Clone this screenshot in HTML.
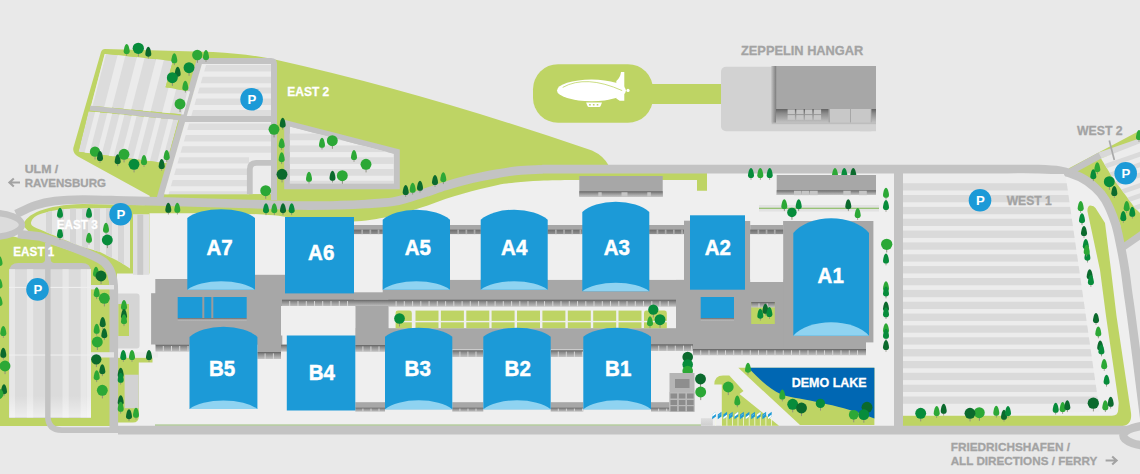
<!DOCTYPE html>
<html><head><meta charset="utf-8"><title>Map</title>
<style>
html,body{margin:0;padding:0;background:#e9e9e9;}
svg{display:block;}
text{font-family:"Liberation Sans",sans-serif;font-weight:bold;}
</style></head><body>
<svg width="1140" height="474" viewBox="0 0 1140 474">
<rect width="1140" height="474" fill="#e9e9e9"/>
<linearGradient id="tg" x1="0" y1="0" x2="0" y2="1"><stop offset="0" stop-color="#626262"/><stop offset="0.3" stop-color="#8a8a8a"/><stop offset="1" stop-color="#c4c4c4"/></linearGradient>
<linearGradient id="tg2" x1="0" y1="0" x2="0" y2="1"><stop offset="0" stop-color="#6c6c6c"/><stop offset="1" stop-color="#929292"/></linearGradient>
<path d="M117,272 L149,272 L149,205 L560,170 L895,170 L895,426 L118,426 Z" fill="#efefef"/>
<path d="M902,173 L1036,169 L1080,177 L1095,187.5 L1105.4,200 L1115.3,223.2 L1120.7,246.4 L1124.9,269.6 L1128,292.8 L1131.3,316 L1137,360 L1142,400 L1142,426 L902,426 Z" fill="#efefef"/>
<path d="M105,49 L213,52 Q250,54 277,60 Q425,93 592,150.5 Q604,156 609,166 L707,170 L707,190.7 L697,190.7 L697,180 L570.0,180.0 C565.0,180.1 549.1,180.3 540.0,180.7 C530.9,181.1 522.4,181.8 515.4,182.5 C508.4,183.2 503.7,183.8 497.9,184.9 C492.1,186.0 486.2,187.5 480.4,189.0 C474.5,190.5 468.6,192.0 462.8,193.7 C457.0,195.4 451.2,197.0 445.3,199.0 C439.4,201.0 433.6,203.6 427.7,205.6 C421.8,207.6 416.0,209.2 410.2,210.9 C404.4,212.6 399.9,214.2 392.6,215.8 C385.3,217.4 375.1,219.6 366.3,220.5 C357.5,221.4 351.1,221.7 340.0,221.4 C328.9,221.1 312.8,219.7 300.0,218.5 C287.2,217.3 279.7,215.4 263.0,214.5 C246.3,213.6 220.5,213.5 200.0,213.3 C179.5,213.1 150.0,213.3 140.0,213.3 L150,196 L78,156.5 Q72.5,153.5 73.3,148 L101,52 Q102,49 105,49 Z" fill="#bed464"/>
<path d="M23,225.5 C26,214 45,205 83,204 L160,205.5 L160,213 L149.5,213 L149.5,273.5 L117,273.5 L117,290 L100,260 L60,244 L30,233 Z" fill="#bed464"/>
<path d="M0,233.5 L20,238 L40,240 L60,247 L80,254 L100,262 L108,272 L110,290 L118,290 L118,426 L0,426 Z" fill="#bed464"/>
<rect x="114.0" y="293.5" width="25.6" height="55.0" fill="#d5d5d5" rx="3"/>
<rect x="118.3" y="304.0" width="10.7" height="32.0" fill="#bed464" />
<rect x="118.0" y="357.7" width="34.5" height="4.8" fill="#bed464" />
<path d="M118,362 L138.8,362 L138.8,416.5 Q138.8,422.5 132.8,422.5 L118,422.5 Z" fill="#bed464"/>
<rect x="124.6" y="374.7" width="14.1" height="33.5" fill="#d2d2d2" />
<rect x="533.0" y="64.2" width="120.0" height="58.5" fill="#bed464" rx="25"/>
<rect x="640.0" y="84.0" width="82.0" height="20.0" fill="#bed464" />
<path d="M902.7,415.8 L1112,415.8 Q1118.5,415.8 1118.2,409 L1118.7,403 L1106,316 L1100,270 L1087.4,211 Q1087.5,205.5 1090.5,205.5 Q1094,205.5 1095.5,208 L1105,223 L1111,270 L1116.5,316 L1129.5,403 L1131,413 Q1132.5,426 1120,426 L902.7,426 Z" fill="#bed464"/>
<path d="M1068.5,168.5 L1140,130.6 L1140,236 L1124,248 L1120,224 L1106,194 L1078,172.5 Z" fill="#bed464"/>
<rect x="155.0" y="424.5" width="546.0" height="1.2" fill="#9cc07a" />
<rect x="759.0" y="205.0" width="120.0" height="6.5" fill="#e2e2e2" />
<rect x="759.0" y="207.7" width="120.0" height="1.2" fill="#8fbf6a" />
<ellipse cx="-10" cy="224.8" rx="32" ry="12.2" fill="#dcdcdc" stroke="#c3c3c3" stroke-width="6.4"/>
<path d="M16.0,214.0 C19.2,212.6 28.5,207.7 35.0,205.5 C41.5,203.3 47.0,202.0 55.0,201.0 C63.0,200.0 71.3,199.6 83.0,199.5 C94.7,199.4 111.0,200.2 125.0,200.6 C139.0,201.0 146.2,201.1 167.0,201.7 C187.8,202.3 227.8,203.4 250.0,204.0 C272.2,204.6 285.0,205.3 300.0,205.5 C315.0,205.7 329.0,205.4 340.0,205.2 C351.0,204.9 357.2,204.6 366.0,204.0 C374.8,203.4 385.3,202.9 392.6,201.8 C399.9,200.7 404.1,199.1 410.0,197.5 C415.9,195.9 421.9,193.9 427.7,192.0 C433.5,190.1 439.1,188.0 445.0,186.2 C450.9,184.4 457.0,182.5 462.8,181.0 C468.6,179.5 474.1,178.2 480.0,177.0 C485.9,175.8 491.6,174.7 497.9,173.6 C504.2,172.5 511.0,171.3 518.0,170.6 C525.0,169.9 533.0,169.7 540.0,169.4 C547.0,169.2 533.3,169.2 560.0,169.1 C586.7,169.0 676.7,169.1 700.0,169.1 L1000,169.1" fill="none" stroke="#c3c3c3" stroke-width="8.7" />
<path d="M1000.0,169.1 C1006.0,169.1 1026.0,168.8 1036.0,169.1 C1046.0,169.4 1052.7,169.5 1060.0,170.8 C1067.3,172.1 1074.2,174.2 1080.0,177.0 C1085.8,179.8 1090.8,183.7 1095.0,187.5 C1099.2,191.3 1102.0,194.1 1105.4,200.0 C1108.8,205.9 1112.8,215.5 1115.3,223.2 C1117.8,230.9 1119.1,238.7 1120.7,246.4 C1122.3,254.1 1123.7,261.9 1124.9,269.6 C1126.1,277.3 1126.9,285.1 1128.0,292.8 C1129.1,300.5 1129.8,304.8 1131.3,316.0 C1132.8,327.2 1135.2,346.0 1137.0,360.0 C1138.8,374.0 1140.5,388.0 1142.0,400.0 C1143.5,412.0 1145.3,426.7 1146.0,432.0" fill="none" stroke="#c3c3c3" stroke-width="8.7" />
<path d="M898.5,169.5 L898.5,430" fill="none" stroke="#c3c3c3" stroke-width="9" />
<path d="M118,430.1 L1140,430.1" fill="none" stroke="#c3c3c3" stroke-width="8.6" />
<path d="M18,234 L40,236.5 C70,246 95,255 104,262 C111,268 113.8,278 113.8,290 L113.8,430" fill="none" stroke="#c3c3c3" stroke-width="8.6" />
<rect x="91.0" y="285.0" width="23.0" height="4.4" fill="#e4e4e4" />
<rect x="91.0" y="352.2" width="23.0" height="5.3" fill="#e4e4e4" />
<rect x="118.0" y="352.2" width="40.0" height="5.3" fill="#eaeaea" />
<path d="M47.85,243 L47.85,416 Q47.85,430.1 62,430.1 L118,430.1" fill="none" stroke="#c3c3c3" stroke-width="5.7" />
<path d="M9.2,418 L9.2,272 Q9.2,263 18.5,263 L42,263 Q45,262.5 45.2,259 L50.5,259 Q50.7,262.5 54,263 L81.7,263 Q91,263 91,272 L91,418 Z" fill="#c3c3c3"/>
<ellipse cx="1154" cy="435.6" rx="30.7" ry="10.5" fill="#e9e9e9" stroke="#c3c3c3" stroke-width="8.2"/>
<path d="M1099,155.8 L1142,141" fill="none" stroke="#d8d8d8" stroke-width="6.5" />
<path d="M1068,173 L1100,155.3" fill="none" stroke="#c3c3c3" stroke-width="6.5" />
<path d="M1122,248 L1142,234" fill="none" stroke="#c3c3c3" stroke-width="7" />
<path d="M200,60 L160,198" fill="none" stroke="#c3c3c3" stroke-width="6.5" />
<path d="M198,61 L271,61 Q274,61 274,64 L274,200" fill="none" stroke="#c3c3c3" stroke-width="6" />
<path d="M180,119 L274,119" fill="none" stroke="#c3c3c3" stroke-width="6" />
<path d="M90,108 L180,118" fill="none" stroke="#c3c3c3" stroke-width="5" />
<clipPath id="c1"><polygon points="903,174 1064,174 1066,178 1099.7,412 903,415"/></clipPath>
<g clip-path="url(#c1)"><polygon points="903,174 1064,174 1066,178 1099.7,412 903,415" fill="#ececec"/>
<rect x="902.7" y="183.2" width="200.0" height="7.3" fill="#dadada" />
<rect x="902.7" y="195.0" width="200.0" height="7.3" fill="#dadada" />
<rect x="902.7" y="206.9" width="200.0" height="7.3" fill="#dadada" />
<rect x="902.7" y="218.7" width="200.0" height="7.3" fill="#dadada" />
<rect x="902.7" y="230.6" width="200.0" height="7.3" fill="#dadada" />
<rect x="902.7" y="242.4" width="200.0" height="7.3" fill="#dadada" />
<rect x="902.7" y="254.3" width="200.0" height="7.3" fill="#dadada" />
<rect x="902.7" y="266.1" width="200.0" height="7.3" fill="#dadada" />
<rect x="902.7" y="278.0" width="200.0" height="7.3" fill="#dadada" />
<rect x="902.7" y="289.9" width="200.0" height="7.3" fill="#dadada" />
<rect x="902.7" y="301.7" width="200.0" height="7.3" fill="#dadada" />
<rect x="902.7" y="313.6" width="200.0" height="7.3" fill="#dadada" />
<rect x="902.7" y="325.4" width="200.0" height="7.3" fill="#dadada" />
<rect x="902.7" y="337.3" width="200.0" height="7.3" fill="#dadada" />
<rect x="902.7" y="349.1" width="200.0" height="7.3" fill="#dadada" />
<rect x="902.7" y="361.0" width="200.0" height="7.3" fill="#dadada" />
<rect x="902.7" y="372.8" width="200.0" height="7.3" fill="#dadada" />
<rect x="902.7" y="384.7" width="200.0" height="7.3" fill="#dadada" />
<rect x="902.7" y="396.5" width="200.0" height="7.3" fill="#dadada" />
</g>
<clipPath id="c2"><polygon points="1101,158.5 1140,143.3 1140,213 1135,208 1112.8,178"/></clipPath>
<g clip-path="url(#c2)"><rect x="1095" y="140" width="50" height="80" fill="#ececec"/>
<polygon points="1095,167.3 1145,150.0 1145,155.0 1095,172.3" fill="#dadada"/>
<polygon points="1095,177.7 1145,160.4 1145,165.4 1095,182.7" fill="#dadada"/>
<polygon points="1095,188.1 1145,170.8 1145,175.8 1095,193.1" fill="#dadada"/>
<polygon points="1095,198.5 1145,181.2 1145,186.2 1095,203.5" fill="#dadada"/>
<polygon points="1095,208.9 1145,191.6 1145,196.6 1095,213.9" fill="#dadada"/>
<polygon points="1095,219.3 1145,202.0 1145,207.0 1095,224.3" fill="#dadada"/>
<polygon points="1095,229.7 1145,212.4 1145,217.4 1095,234.7" fill="#dadada"/>
<polygon points="1095,240.1 1145,222.8 1145,227.8 1095,245.1" fill="#dadada"/>
</g>
<clipPath id="c3"><polygon points="202.84,64 271,64 271,116 187.76,116"/></clipPath>
<g clip-path="url(#c3)"><polygon points="202.84,64 271,64 271,116 187.76,116" fill="#ececec"/>
<rect x="150.0" y="65.0" width="130.0" height="6.5" fill="#dddddd" />
<rect x="150.0" y="76.7" width="130.0" height="6.5" fill="#dddddd" />
<rect x="150.0" y="87.5" width="130.0" height="6.0" fill="#dddddd" />
<rect x="150.0" y="98.5" width="130.0" height="6.5" fill="#dddddd" />
<rect x="150.0" y="110.0" width="130.0" height="6.0" fill="#dddddd" />
</g>
<clipPath id="c4"><polygon points="186.02,122 271,122 271,194.3 165.053,194.3"/></clipPath>
<g clip-path="url(#c4)"><polygon points="186.02,122 271,122 271,194.3 165.053,194.3" fill="#ececec"/>
<rect x="150.0" y="123.5" width="130.0" height="6.5" fill="#dddddd" />
<rect x="150.0" y="135.0" width="130.0" height="6.5" fill="#dddddd" />
<rect x="150.0" y="146.2" width="130.0" height="6.5" fill="#dddddd" />
<rect x="150.0" y="157.3" width="99.0" height="6.2" fill="#dddddd" />
<rect x="150.0" y="168.5" width="99.0" height="6.5" fill="#dddddd" />
<rect x="150.0" y="180.0" width="99.0" height="6.2" fill="#dddddd" />
<rect x="150.0" y="191.3" width="99.0" height="6.2" fill="#dddddd" />
</g>
<polygon points="201.84,64 206.34,64 168.553,194.3 164.053,194.3" fill="#ececec"/>
<path d="M180,119 L274,119" fill="none" stroke="#c3c3c3" stroke-width="6" />
<path d="M274,162.9 L256.3,162.9 Q249.8,162.9 249.8,169.4 L249.8,194.3" fill="none" stroke="#c3c3c3" stroke-width="5.8" />
<path d="M274,64 L274,200" fill="none" stroke="#c3c3c3" stroke-width="6" />
<polygon points="284.2,119.7 399.8,149.6 399.8,189.2 284.2,189.2" fill="#c3c3c3"/>
<clipPath id="c5"><polygon points="289.8,126.5 393.9,153.8 393.9,183.6 289.8,183.6"/></clipPath>
<g clip-path="url(#c5)"><polygon points="289.8,126.5 393.9,153.8 393.9,183.6 289.8,183.6" fill="#ececec"/>
<rect x="280.0" y="133.6" width="130.0" height="6.7" fill="#dcdcdc" />
<rect x="280.0" y="145.4" width="130.0" height="6.7" fill="#dcdcdc" />
<rect x="280.0" y="157.2" width="130.0" height="6.7" fill="#dcdcdc" />
<rect x="280.0" y="169.0" width="130.0" height="6.7" fill="#dcdcdc" />
<rect x="280.0" y="180.8" width="130.0" height="6.7" fill="#dcdcdc" />
</g>
<clipPath id="c6"><polygon points="104.7,53.8 172.9,60.9 165.5,87.2 190,91.5 183.5,114.5 91,105.8"/></clipPath>
<g clip-path="url(#c6)"><polygon points="104.7,53.8 172.9,60.9 165.5,87.2 190,91.5 183.5,114.5 91,105.8" fill="#dcdcdc"/>
<polygon points="98.1,54 106.0,54 75.0,174 67.1,174" fill="#ebebeb"/>
<polygon points="117.9,54 125.8,54 94.8,174 86.9,174" fill="#ebebeb"/>
<polygon points="137.7,54 145.6,54 114.6,174 106.7,174" fill="#ebebeb"/>
<polygon points="157.5,54 165.4,54 134.4,174 126.5,174" fill="#ebebeb"/>
<polygon points="177.3,54 185.2,54 154.2,174 146.3,174" fill="#ebebeb"/>
<polygon points="197.1,54 205.0,54 174.0,174 166.1,174" fill="#ebebeb"/>
<polygon points="216.9,54 224.8,54 193.8,174 185.9,174" fill="#ebebeb"/>
</g>
<clipPath id="c7"><polygon points="88.5,111.3 178.5,120 166.5,163.2 78.5,151.8"/></clipPath>
<g clip-path="url(#c7)"><polygon points="88.5,111.3 178.5,120 166.5,163.2 78.5,151.8" fill="#dcdcdc"/>
<polygon points="97.6,54 102.6,54 71.6,174 66.6,174" fill="#ebebeb"/>
<polygon points="110.1,54 115.1,54 84.1,174 79.1,174" fill="#ebebeb"/>
<polygon points="122.6,54 127.6,54 96.6,174 91.6,174" fill="#ebebeb"/>
<polygon points="135.1,54 140.1,54 109.1,174 104.1,174" fill="#ebebeb"/>
<polygon points="147.6,54 152.6,54 121.6,174 116.6,174" fill="#ebebeb"/>
<polygon points="160.1,54 165.1,54 134.1,174 129.1,174" fill="#ebebeb"/>
<polygon points="172.6,54 177.6,54 146.6,174 141.6,174" fill="#ebebeb"/>
<polygon points="185.1,54 190.1,54 159.1,174 154.1,174" fill="#ebebeb"/>
<polygon points="197.6,54 202.6,54 171.6,174 166.6,174" fill="#ebebeb"/>
</g>
<clipPath id="c8"><path d="M31,222.5 C32,218 36,215.5 42,213.5 C52,210.3 60,209 75,208.4 L112,208 L130,211 L130,268.5 L120,262 L100,252 L80,246 L60,238 L40,229.5 C34,227 30.5,226 31,222 Z M133,214.4 L149.2,214.4 L149.2,274.8 L133,274.8 Z"/></clipPath>
<g clip-path="url(#c8)"><rect x="20" y="205" width="135" height="70" fill="#e6e6e6"/>
<rect x="46.0" y="205.0" width="6.0" height="70.0" fill="#d6d6d6" />
<rect x="58.0" y="205.0" width="6.0" height="70.0" fill="#d6d6d6" />
<rect x="70.0" y="205.0" width="6.0" height="70.0" fill="#d6d6d6" />
<rect x="82.0" y="205.0" width="6.0" height="70.0" fill="#d6d6d6" />
<rect x="94.0" y="205.0" width="6.0" height="70.0" fill="#d6d6d6" />
<rect x="106.0" y="205.0" width="6.0" height="70.0" fill="#d6d6d6" />
<rect x="118.0" y="205.0" width="6.0" height="70.0" fill="#d6d6d6" />
<rect x="132.0" y="205.0" width="18.0" height="70.0" fill="#dfdfdf" />
<rect x="137.3" y="205.0" width="5.9" height="70.0" fill="#c9c9c9" />
</g>
<clipPath id="c9"><path d="M9.2,417.6 L9.2,269.3 L45.1,269.3 L45.1,417.6 Z M50.6,269.3 L91,269.3 L91,417.6 L50.6,417.6 Z"/></clipPath>
<linearGradient id="fade" x1="0" y1="0" x2="0" y2="1"><stop offset="0" stop-color="#fff" stop-opacity="0"/><stop offset="0.85" stop-color="#fff" stop-opacity="0"/><stop offset="1" stop-color="#fff" stop-opacity="0.55"/></linearGradient>
<g clip-path="url(#c9)"><rect x="8" y="263" width="85" height="156" fill="#dbdbdb"/>
<rect x="9.2" y="263.0" width="5.8" height="156.0" fill="#e7e7e7" />
<rect x="26.9" y="263.0" width="6.3" height="156.0" fill="#e7e7e7" />
<rect x="62.5" y="263.0" width="6.3" height="156.0" fill="#e7e7e7" />
<rect x="80.7" y="263.0" width="6.0" height="156.0" fill="#e7e7e7" />
<rect x="86.7" y="263.0" width="4.3" height="156.0" fill="#ececec" />
<rect x="8.0" y="286.9" width="85.0" height="1.1" fill="#efefef" />
<rect x="8.0" y="354.5" width="85.0" height="1.1" fill="#efefef" />
<rect x="8.0" y="263.0" width="85.0" height="156.0" fill="url(#fade)" />
</g>
<rect x="750.6" y="173.0" width="0.8" height="6.8" fill="#8b8b7a"/>
<path d="M751.0,168.0 C752.6,168.0 753.8,172.5 754.0,175.2 C754.1,177.2 752.6,178.0 751.0,178.0 C749.4,178.0 747.9,177.2 748.0,175.2 C748.2,172.5 749.4,168.0 751.0,168.0 Z" fill="#078c3b"/>
<rect x="759.9" y="173.0" width="0.8" height="6.8" fill="#8b8b7a"/>
<path d="M760.3,168.0 C761.9,168.0 763.1,172.5 763.3,175.2 C763.4,177.2 761.9,178.0 760.3,178.0 C758.6,178.0 757.2,177.2 757.3,175.2 C757.5,172.5 758.6,168.0 760.3,168.0 Z" fill="#2ca836"/>
<rect x="769.3" y="173.0" width="0.8" height="6.8" fill="#8b8b7a"/>
<path d="M769.7,168.0 C771.4,168.0 772.5,172.5 772.7,175.2 C772.8,177.2 771.4,178.0 769.7,178.0 C768.1,178.0 766.6,177.2 766.7,175.2 C766.9,172.5 768.1,168.0 769.7,168.0 Z" fill="#078c3b"/>
<rect x="834.6" y="173.0" width="0.8" height="6.8" fill="#8b8b7a"/>
<path d="M835.0,168.0 C836.6,168.0 837.8,172.5 838.0,175.2 C838.1,177.2 836.6,178.0 835.0,178.0 C833.4,178.0 831.9,177.2 832.0,175.2 C832.2,172.5 833.4,168.0 835.0,168.0 Z" fill="#2ca836"/>
<rect x="843.9" y="173.0" width="0.8" height="6.8" fill="#8b8b7a"/>
<path d="M844.3,168.0 C845.9,168.0 847.1,172.5 847.3,175.2 C847.4,177.2 845.9,178.0 844.3,178.0 C842.6,178.0 841.2,177.2 841.3,175.2 C841.5,172.5 842.6,168.0 844.3,168.0 Z" fill="#078c3b"/>
<rect x="852.9" y="173.0" width="0.8" height="6.8" fill="#8b8b7a"/>
<path d="M853.3,168.0 C854.9,168.0 856.1,172.5 856.3,175.2 C856.4,177.2 854.9,178.0 853.3,178.0 C851.6,178.0 850.2,177.2 850.3,175.2 C850.5,172.5 851.6,168.0 853.3,168.0 Z" fill="#0b6a2d"/>
<rect x="687.3" y="357.0" width="0.9" height="7.9" fill="#8b8b7a"/>
<circle cx="687.7" cy="357.0" r="5.3" fill="#0b6a2d"/>
<rect x="687.3" y="364.5" width="0.9" height="7.9" fill="#8b8b7a"/>
<circle cx="687.7" cy="364.5" r="5.3" fill="#078c3b"/>
<rect x="687.3" y="371.0" width="0.9" height="7.9" fill="#8b8b7a"/>
<circle cx="687.7" cy="371.0" r="5.3" fill="#2ca836"/>
<rect x="155.3" y="279.0" width="127.0" height="65.7" fill="#a7a7a7" />
<rect x="254.0" y="274.8" width="31.2" height="10.0" fill="#a7a7a7" />
<rect x="151.1" y="293.2" width="5.0" height="51.3" fill="#a7a7a7" />
<rect x="282.0" y="279.7" width="503.0" height="20.0" fill="#a7a7a7" />
<rect x="282.0" y="293.0" width="72.0" height="7.0" fill="#a7a7a7" />
<rect x="282.0" y="299.7" width="394.0" height="6.9" fill="url(#tg)" />
<rect x="289.2" y="301.1" width="1.0" height="5.5" fill="#d6d6d6" />
<rect x="297.5" y="301.1" width="1.0" height="5.5" fill="#d6d6d6" />
<rect x="305.8" y="301.1" width="1.0" height="5.5" fill="#d6d6d6" />
<rect x="314.0" y="301.1" width="1.0" height="5.5" fill="#d6d6d6" />
<rect x="322.2" y="301.1" width="1.0" height="5.5" fill="#d6d6d6" />
<rect x="330.5" y="301.1" width="1.0" height="5.5" fill="#d6d6d6" />
<rect x="338.8" y="301.1" width="1.0" height="5.5" fill="#d6d6d6" />
<rect x="347.0" y="301.1" width="1.0" height="5.5" fill="#d6d6d6" />
<rect x="396.5" y="301.1" width="1.0" height="5.5" fill="#d6d6d6" />
<rect x="404.8" y="301.1" width="1.0" height="5.5" fill="#d6d6d6" />
<rect x="413.0" y="301.1" width="1.0" height="5.5" fill="#d6d6d6" />
<rect x="421.2" y="301.1" width="1.0" height="5.5" fill="#d6d6d6" />
<rect x="429.5" y="301.1" width="1.0" height="5.5" fill="#d6d6d6" />
<rect x="437.8" y="301.1" width="1.0" height="5.5" fill="#d6d6d6" />
<rect x="446.0" y="301.1" width="1.0" height="5.5" fill="#d6d6d6" />
<rect x="454.2" y="301.1" width="1.0" height="5.5" fill="#d6d6d6" />
<rect x="462.5" y="301.1" width="1.0" height="5.5" fill="#d6d6d6" />
<rect x="470.8" y="301.1" width="1.0" height="5.5" fill="#d6d6d6" />
<rect x="479.0" y="301.1" width="1.0" height="5.5" fill="#d6d6d6" />
<rect x="487.2" y="301.1" width="1.0" height="5.5" fill="#d6d6d6" />
<rect x="495.5" y="301.1" width="1.0" height="5.5" fill="#d6d6d6" />
<rect x="503.8" y="301.1" width="1.0" height="5.5" fill="#d6d6d6" />
<rect x="512.0" y="301.1" width="1.0" height="5.5" fill="#d6d6d6" />
<rect x="520.2" y="301.1" width="1.0" height="5.5" fill="#d6d6d6" />
<rect x="528.5" y="301.1" width="1.0" height="5.5" fill="#d6d6d6" />
<rect x="536.8" y="301.1" width="1.0" height="5.5" fill="#d6d6d6" />
<rect x="545.0" y="301.1" width="1.0" height="5.5" fill="#d6d6d6" />
<rect x="553.2" y="301.1" width="1.0" height="5.5" fill="#d6d6d6" />
<rect x="561.5" y="301.1" width="1.0" height="5.5" fill="#d6d6d6" />
<rect x="569.8" y="301.1" width="1.0" height="5.5" fill="#d6d6d6" />
<rect x="578.0" y="301.1" width="1.0" height="5.5" fill="#d6d6d6" />
<rect x="586.2" y="301.1" width="1.0" height="5.5" fill="#d6d6d6" />
<rect x="594.5" y="301.1" width="1.0" height="5.5" fill="#d6d6d6" />
<rect x="602.8" y="301.1" width="1.0" height="5.5" fill="#d6d6d6" />
<rect x="611.0" y="301.1" width="1.0" height="5.5" fill="#d6d6d6" />
<rect x="619.2" y="301.1" width="1.0" height="5.5" fill="#d6d6d6" />
<rect x="627.5" y="301.1" width="1.0" height="5.5" fill="#d6d6d6" />
<rect x="635.8" y="301.1" width="1.0" height="5.5" fill="#d6d6d6" />
<rect x="644.0" y="301.1" width="1.0" height="5.5" fill="#d6d6d6" />
<rect x="652.2" y="301.1" width="1.0" height="5.5" fill="#d6d6d6" />
<rect x="660.5" y="301.1" width="1.0" height="5.5" fill="#d6d6d6" />
<rect x="668.8" y="301.1" width="1.0" height="5.5" fill="#d6d6d6" />
<rect x="355.3" y="306.0" width="33.4" height="39.2" fill="#a7a7a7" />
<rect x="355.3" y="328.0" width="340.0" height="21.5" fill="#a7a7a7" />
<rect x="676.0" y="279.7" width="109.0" height="69.5" fill="#a7a7a7" />
<rect x="783.1" y="221.0" width="90.3" height="121.4" fill="#a7a7a7" />
<rect x="783.1" y="342.0" width="82.9" height="7.2" fill="#a7a7a7" />
<rect x="745.0" y="221.0" width="5.2" height="61.0" fill="#a7a7a7" />
<rect x="750.2" y="225.0" width="33.0" height="9.2" fill="#a7a7a7" />
<rect x="684.0" y="220.7" width="6.0" height="60.0" fill="#a7a7a7" />
<rect x="354.0" y="225.0" width="336.0" height="9.1" fill="#a7a7a7" />
<rect x="354.0" y="234.0" width="28.7" height="58.3" fill="#efefef" />
<rect x="450.0" y="234.0" width="30.7" height="45.7" fill="#efefef" />
<rect x="547.7" y="234.0" width="34.6" height="45.7" fill="#efefef" />
<rect x="649.3" y="234.0" width="34.7" height="45.7" fill="#efefef" />
<rect x="750.2" y="234.1" width="32.9" height="47.9" fill="#efefef" />
<rect x="354.0" y="229.6" width="28.7" height="4.5" fill="url(#tg2)" />
<rect x="361.3" y="229.6" width="1.7" height="4.5" fill="#acacac" />
<rect x="369.5" y="229.6" width="1.7" height="4.5" fill="#acacac" />
<rect x="377.7" y="229.6" width="1.7" height="4.5" fill="#acacac" />
<rect x="450.0" y="229.6" width="30.7" height="4.5" fill="url(#tg2)" />
<rect x="457.3" y="229.6" width="1.7" height="4.5" fill="#acacac" />
<rect x="465.5" y="229.6" width="1.7" height="4.5" fill="#acacac" />
<rect x="473.7" y="229.6" width="1.7" height="4.5" fill="#acacac" />
<rect x="547.7" y="229.6" width="34.6" height="4.5" fill="url(#tg2)" />
<rect x="555.0" y="229.6" width="1.7" height="4.5" fill="#acacac" />
<rect x="563.2" y="229.6" width="1.7" height="4.5" fill="#acacac" />
<rect x="571.4" y="229.6" width="1.7" height="4.5" fill="#acacac" />
<rect x="579.6" y="229.6" width="1.7" height="4.5" fill="#acacac" />
<rect x="649.3" y="229.6" width="34.7" height="4.5" fill="url(#tg2)" />
<rect x="656.6" y="229.6" width="1.7" height="4.5" fill="#acacac" />
<rect x="664.8" y="229.6" width="1.7" height="4.5" fill="#acacac" />
<rect x="673.0" y="229.6" width="1.7" height="4.5" fill="#acacac" />
<rect x="681.2" y="229.6" width="1.7" height="4.5" fill="#acacac" />
<rect x="750.2" y="229.6" width="32.9" height="4.5" fill="url(#tg2)" />
<rect x="757.5" y="229.6" width="1.7" height="4.5" fill="#acacac" />
<rect x="765.7" y="229.6" width="1.7" height="4.5" fill="#acacac" />
<rect x="773.9" y="229.6" width="1.7" height="4.5" fill="#acacac" />
<rect x="388.8" y="306.0" width="287.2" height="22.2" fill="#efefef" />
<rect x="388.3" y="299.8" width="287.7" height="6.9" fill="url(#tg)" />
<rect x="395.6" y="301.2" width="1.0" height="5.5" fill="#d6d6d6" />
<rect x="403.8" y="301.2" width="1.0" height="5.5" fill="#d6d6d6" />
<rect x="412.1" y="301.2" width="1.0" height="5.5" fill="#d6d6d6" />
<rect x="420.3" y="301.2" width="1.0" height="5.5" fill="#d6d6d6" />
<rect x="428.6" y="301.2" width="1.0" height="5.5" fill="#d6d6d6" />
<rect x="436.8" y="301.2" width="1.0" height="5.5" fill="#d6d6d6" />
<rect x="445.1" y="301.2" width="1.0" height="5.5" fill="#d6d6d6" />
<rect x="453.3" y="301.2" width="1.0" height="5.5" fill="#d6d6d6" />
<rect x="461.6" y="301.2" width="1.0" height="5.5" fill="#d6d6d6" />
<rect x="469.8" y="301.2" width="1.0" height="5.5" fill="#d6d6d6" />
<rect x="478.1" y="301.2" width="1.0" height="5.5" fill="#d6d6d6" />
<rect x="486.3" y="301.2" width="1.0" height="5.5" fill="#d6d6d6" />
<rect x="494.6" y="301.2" width="1.0" height="5.5" fill="#d6d6d6" />
<rect x="502.8" y="301.2" width="1.0" height="5.5" fill="#d6d6d6" />
<rect x="511.1" y="301.2" width="1.0" height="5.5" fill="#d6d6d6" />
<rect x="519.3" y="301.2" width="1.0" height="5.5" fill="#d6d6d6" />
<rect x="527.5" y="301.2" width="1.0" height="5.5" fill="#d6d6d6" />
<rect x="535.8" y="301.2" width="1.0" height="5.5" fill="#d6d6d6" />
<rect x="544.0" y="301.2" width="1.0" height="5.5" fill="#d6d6d6" />
<rect x="552.3" y="301.2" width="1.0" height="5.5" fill="#d6d6d6" />
<rect x="560.5" y="301.2" width="1.0" height="5.5" fill="#d6d6d6" />
<rect x="568.8" y="301.2" width="1.0" height="5.5" fill="#d6d6d6" />
<rect x="577.0" y="301.2" width="1.0" height="5.5" fill="#d6d6d6" />
<rect x="585.3" y="301.2" width="1.0" height="5.5" fill="#d6d6d6" />
<rect x="593.5" y="301.2" width="1.0" height="5.5" fill="#d6d6d6" />
<rect x="601.8" y="301.2" width="1.0" height="5.5" fill="#d6d6d6" />
<rect x="610.0" y="301.2" width="1.0" height="5.5" fill="#d6d6d6" />
<rect x="618.3" y="301.2" width="1.0" height="5.5" fill="#d6d6d6" />
<rect x="626.5" y="301.2" width="1.0" height="5.5" fill="#d6d6d6" />
<rect x="634.8" y="301.2" width="1.0" height="5.5" fill="#d6d6d6" />
<rect x="643.0" y="301.2" width="1.0" height="5.5" fill="#d6d6d6" />
<rect x="651.3" y="301.2" width="1.0" height="5.5" fill="#d6d6d6" />
<rect x="659.5" y="301.2" width="1.0" height="5.5" fill="#d6d6d6" />
<rect x="667.8" y="301.2" width="1.0" height="5.5" fill="#d6d6d6" />
<path d="M395.6,328.2 L395.6,313 Q395.6,310.6 398,310.6 L409.4,310.6 Q411.8,310.6 411.8,313 L411.8,328.2 Z" fill="#bed464"/>
<rect x="415.5" y="310.6" width="23.0" height="17.6" fill="#bed464" />
<rect x="440.9" y="310.6" width="23.0" height="17.6" fill="#bed464" />
<rect x="466.3" y="310.6" width="23.0" height="17.6" fill="#bed464" />
<rect x="491.6" y="310.6" width="23.0" height="17.6" fill="#bed464" />
<rect x="517.0" y="310.6" width="23.0" height="17.6" fill="#bed464" />
<rect x="542.4" y="310.6" width="23.0" height="17.6" fill="#bed464" />
<rect x="567.8" y="310.6" width="23.0" height="17.6" fill="#bed464" />
<rect x="593.2" y="310.6" width="23.0" height="17.6" fill="#bed464" />
<rect x="618.5" y="310.6" width="23.0" height="17.6" fill="#bed464" />
<path d="M644,328.2 L644,313 Q644,310.6 646.4,310.6 L664.4,310.6 Q666.8,310.6 666.8,313 L666.8,328.2 Z" fill="#bed464"/>
<rect x="395.6" y="320.9" width="271.4" height="1.4" fill="#efefef" />
<rect x="281.0" y="306.0" width="74.3" height="29.5" fill="#efefef" />
<rect x="452.3" y="350.2" width="31.0" height="6.8" fill="url(#tg)" />
<rect x="459.4" y="351.6" width="1.0" height="5.4" fill="#d6d6d6" />
<rect x="467.4" y="351.6" width="1.0" height="5.4" fill="#d6d6d6" />
<rect x="475.5" y="351.6" width="1.0" height="5.4" fill="#d6d6d6" />
<rect x="452.3" y="357.0" width="31.0" height="45.0" fill="#efefef" />
<rect x="452.3" y="402.2" width="31.0" height="5.6" fill="#a7a7a7" />
<rect x="452.3" y="407.6" width="31.0" height="4.1" fill="url(#tg)" />
<rect x="459.4" y="408.6" width="1.0" height="3.1" fill="#d6d6d6" />
<rect x="467.5" y="408.6" width="1.0" height="3.1" fill="#d6d6d6" />
<rect x="475.5" y="408.6" width="1.0" height="3.1" fill="#d6d6d6" />
<rect x="550.7" y="350.2" width="32.6" height="6.8" fill="url(#tg)" />
<rect x="557.8" y="351.6" width="1.0" height="5.4" fill="#d6d6d6" />
<rect x="565.8" y="351.6" width="1.0" height="5.4" fill="#d6d6d6" />
<rect x="573.9" y="351.6" width="1.0" height="5.4" fill="#d6d6d6" />
<rect x="581.9" y="351.6" width="1.0" height="5.4" fill="#d6d6d6" />
<rect x="550.7" y="357.0" width="32.6" height="45.0" fill="#efefef" />
<rect x="550.7" y="402.2" width="32.6" height="5.6" fill="#a7a7a7" />
<rect x="550.7" y="407.6" width="32.6" height="4.1" fill="url(#tg)" />
<rect x="557.8" y="408.6" width="1.0" height="3.1" fill="#d6d6d6" />
<rect x="565.9" y="408.6" width="1.0" height="3.1" fill="#d6d6d6" />
<rect x="573.9" y="408.6" width="1.0" height="3.1" fill="#d6d6d6" />
<rect x="582.0" y="408.6" width="1.0" height="3.1" fill="#d6d6d6" />
<rect x="355.3" y="345.0" width="29.7" height="6.8" fill="url(#tg)" />
<rect x="362.4" y="346.4" width="1.0" height="5.4" fill="#d6d6d6" />
<rect x="370.4" y="346.4" width="1.0" height="5.4" fill="#d6d6d6" />
<rect x="378.5" y="346.4" width="1.0" height="5.4" fill="#d6d6d6" />
<rect x="651.0" y="344.3" width="42.0" height="6.7" fill="url(#tg)" />
<rect x="658.2" y="345.7" width="1.0" height="5.3" fill="#d6d6d6" />
<rect x="666.5" y="345.7" width="1.0" height="5.3" fill="#d6d6d6" />
<rect x="674.8" y="345.7" width="1.0" height="5.3" fill="#d6d6d6" />
<rect x="683.0" y="345.7" width="1.0" height="5.3" fill="#d6d6d6" />
<rect x="691.2" y="345.7" width="1.0" height="5.3" fill="#d6d6d6" />
<rect x="693.0" y="349.0" width="173.0" height="6.3" fill="url(#tg)" />
<rect x="700.2" y="350.4" width="1.0" height="4.9" fill="#d6d6d6" />
<rect x="708.5" y="350.4" width="1.0" height="4.9" fill="#d6d6d6" />
<rect x="716.8" y="350.4" width="1.0" height="4.9" fill="#d6d6d6" />
<rect x="725.0" y="350.4" width="1.0" height="4.9" fill="#d6d6d6" />
<rect x="733.2" y="350.4" width="1.0" height="4.9" fill="#d6d6d6" />
<rect x="741.5" y="350.4" width="1.0" height="4.9" fill="#d6d6d6" />
<rect x="749.8" y="350.4" width="1.0" height="4.9" fill="#d6d6d6" />
<rect x="758.0" y="350.4" width="1.0" height="4.9" fill="#d6d6d6" />
<rect x="766.2" y="350.4" width="1.0" height="4.9" fill="#d6d6d6" />
<rect x="774.5" y="350.4" width="1.0" height="4.9" fill="#d6d6d6" />
<rect x="782.8" y="350.4" width="1.0" height="4.9" fill="#d6d6d6" />
<rect x="791.0" y="350.4" width="1.0" height="4.9" fill="#d6d6d6" />
<rect x="799.2" y="350.4" width="1.0" height="4.9" fill="#d6d6d6" />
<rect x="807.5" y="350.4" width="1.0" height="4.9" fill="#d6d6d6" />
<rect x="815.8" y="350.4" width="1.0" height="4.9" fill="#d6d6d6" />
<rect x="824.0" y="350.4" width="1.0" height="4.9" fill="#d6d6d6" />
<rect x="832.2" y="350.4" width="1.0" height="4.9" fill="#d6d6d6" />
<rect x="840.5" y="350.4" width="1.0" height="4.9" fill="#d6d6d6" />
<rect x="848.8" y="350.4" width="1.0" height="4.9" fill="#d6d6d6" />
<rect x="857.0" y="350.4" width="1.0" height="4.9" fill="#d6d6d6" />
<rect x="155.5" y="344.6" width="34.0" height="7.0" fill="url(#tg)" />
<rect x="162.8" y="346.0" width="1.0" height="5.6" fill="#d6d6d6" />
<rect x="171.0" y="346.0" width="1.0" height="5.6" fill="#d6d6d6" />
<rect x="179.2" y="346.0" width="1.0" height="5.6" fill="#d6d6d6" />
<rect x="187.5" y="346.0" width="1.0" height="5.6" fill="#d6d6d6" />
<rect x="257.4" y="344.0" width="23.6" height="8.2" fill="#a7a7a7" />
<rect x="257.4" y="352.0" width="23.6" height="7.0" fill="url(#tg)" />
<rect x="264.6" y="353.4" width="1.0" height="5.6" fill="#d6d6d6" />
<rect x="272.9" y="353.4" width="1.0" height="5.6" fill="#d6d6d6" />
<rect x="281.0" y="344.6" width="6.0" height="7.0" fill="url(#tg)" />
<rect x="355.3" y="402.2" width="29.7" height="5.6" fill="#a7a7a7" />
<rect x="355.3" y="407.6" width="29.7" height="4.1" fill="url(#tg)" />
<rect x="362.4" y="408.6" width="1.0" height="3.1" fill="#d6d6d6" />
<rect x="370.5" y="408.6" width="1.0" height="3.1" fill="#d6d6d6" />
<rect x="378.5" y="408.6" width="1.0" height="3.1" fill="#d6d6d6" />
<rect x="651.0" y="402.2" width="18.5" height="5.6" fill="#a7a7a7" />
<rect x="651.0" y="407.6" width="18.5" height="4.1" fill="url(#tg)" />
<rect x="658.1" y="408.6" width="1.0" height="3.1" fill="#d6d6d6" />
<rect x="666.2" y="408.6" width="1.0" height="3.1" fill="#d6d6d6" />
<rect x="751.2" y="302.0" width="23.6" height="22.0" fill="#bed464" />
<rect x="751.2" y="302.0" width="23.6" height="5.5" fill="url(#tg)" />
<rect x="758.5" y="303.4" width="1.0" height="4.1" fill="#d6d6d6" />
<rect x="766.7" y="303.4" width="1.0" height="4.1" fill="#d6d6d6" />
<rect x="579.3" y="176.0" width="83.4" height="20.7" fill="#a7a7a7" />
<rect x="579.3" y="191.3" width="83.4" height="5.4" fill="url(#tg)" />
<rect x="598.3" y="192.3" width="3.4" height="4.4" fill="#c6c6c6" />
<rect x="621.5" y="192.3" width="6.0" height="4.4" fill="#c6c6c6" />
<rect x="647.3" y="192.3" width="3.6" height="4.4" fill="#c6c6c6" />
<rect x="776.7" y="175.0" width="99.3" height="20.0" fill="#a7a7a7" />
<rect x="776.7" y="190.3" width="99.3" height="4.7" fill="url(#tg)" />
<rect x="794.0" y="190.8" width="7.1" height="4.4" fill="#c5c5c5" />
<rect x="801.6" y="190.8" width="7.6" height="4.4" fill="#c5c5c5" />
<rect x="809.9" y="190.8" width="7.8" height="4.4" fill="#c5c5c5" />
<rect x="843.3" y="190.8" width="7.4" height="4.4" fill="#c5c5c5" />
<rect x="859.1" y="190.8" width="7.7" height="4.4" fill="#c5c5c5" />
<rect x="669.5" y="373.0" width="25.0" height="38.7" fill="#b5b5b5" />
<rect x="675.0" y="379.0" width="14.5" height="9.0" fill="#8e8e8e" />
<rect x="669.5" y="392.0" width="25.0" height="19.7" fill="#b9b9b9" />
<rect x="670.5" y="393.5" width="6.6" height="5.0" fill="#8c8c8c" />
<rect x="678.8" y="393.5" width="6.6" height="5.0" fill="#8c8c8c" />
<rect x="687.0" y="393.5" width="6.6" height="5.0" fill="#8c8c8c" />
<rect x="670.5" y="400.0" width="6.6" height="5.0" fill="#8c8c8c" />
<rect x="678.8" y="400.0" width="6.6" height="5.0" fill="#8c8c8c" />
<rect x="687.0" y="400.0" width="6.6" height="5.0" fill="#8c8c8c" />
<rect x="670.5" y="406.2" width="6.6" height="5.0" fill="#8c8c8c" />
<rect x="678.8" y="406.2" width="6.6" height="5.0" fill="#8c8c8c" />
<rect x="687.0" y="406.2" width="6.6" height="5.0" fill="#8c8c8c" />
<rect x="721.0" y="66.7" width="155.0" height="64.5" fill="#d2d2d2" rx="5"/>
<rect x="860.0" y="66.7" width="16.0" height="64.5" fill="#d2d2d2" />
<rect x="771.7" y="66.0" width="104.3" height="56.7" fill="#a7a7a7" />
<linearGradient id="hg" x1="0" x2="1"><stop offset="0" stop-color="#bdbdbd"/><stop offset="1" stop-color="#7c7c7c"/></linearGradient>
<rect x="771.7" y="66.0" width="4.5" height="56.7" fill="url(#hg)" />
<rect x="776.0" y="109.0" width="52.5" height="13.9" fill="url(#tg)" />
<rect x="787.6" y="109.4" width="7.3" height="4.8" fill="#c6c6c6" />
<rect x="796.3" y="109.4" width="7.3" height="4.8" fill="#c6c6c6" />
<rect x="805.0" y="109.4" width="7.3" height="4.8" fill="#c6c6c6" />
<rect x="813.8" y="109.4" width="7.3" height="4.8" fill="#c6c6c6" />
<rect x="787.6" y="115.1" width="7.3" height="4.8" fill="#c6c6c6" />
<rect x="796.3" y="115.1" width="7.3" height="4.8" fill="#c6c6c6" />
<rect x="805.0" y="115.1" width="7.3" height="4.8" fill="#c6c6c6" />
<rect x="813.8" y="115.1" width="7.3" height="4.8" fill="#c6c6c6" />
<rect x="830.0" y="109.0" width="20.0" height="13.9" fill="#c8c8c8" />
<rect x="851.0" y="109.0" width="19.7" height="13.9" fill="#c8c8c8" />
<rect x="871.5" y="109.0" width="4.5" height="13.9" fill="url(#tg)" />
<rect x="771.7" y="122.7" width="104.3" height="1.5" fill="#bdbdbd" />
<path d="M187.3,289.7 L187.3,218 A38.59,16.90 0 0 1 255,218 L255,289.7 Z" fill="#1c9ad7"/>
<path d="M187.3,289.7 A38.59,16.32 0 0 1 255,289.7 Z" fill="#8fd3f1"/>
<rect x="285.0" y="217.0" width="69.0" height="76.4" fill="#1c9ad7" />
<path d="M382.7,289.7 L382.7,219.7 A38.36,19.20 0 0 1 450,219.7 L450,289.7 Z" fill="#1c9ad7"/>
<path d="M382.7,289.7 A38.36,16.32 0 0 1 450,289.7 Z" fill="#8fd3f1"/>
<path d="M480.7,289.7 L480.7,219.7 A38.19,19.20 0 0 1 547.7,219.7 L547.7,289.7 Z" fill="#1c9ad7"/>
<path d="M480.7,289.7 A38.19,16.32 0 0 1 547.7,289.7 Z" fill="#8fd3f1"/>
<path d="M582.3,291.3 L582.3,212 A38.19,19.58 0 0 1 649.3,212 L649.3,291.3 Z" fill="#1c9ad7"/>
<path d="M582.3,291.3 A38.19,16.32 0 0 1 649.3,291.3 Z" fill="#8fd3f1"/>
<rect x="690.0" y="215.3" width="55.0" height="74.4" fill="#1c9ad7" />
<path d="M793.3,335.7 L793.3,233 A43.15,28.22 0 0 1 869,233 L869,335.7 Z" fill="#1c9ad7"/>
<path d="M793.3,335.7 A43.15,25.92 0 0 1 869,335.7 Z" fill="#8fd3f1"/>
<path d="M189.5,409 L189.5,337 A38.70,19.58 0 0 1 257.4,337 L257.4,409 Z" fill="#1c9ad7"/>
<path d="M189.5,409 A38.70,16.32 0 0 1 257.4,409 Z" fill="#8fd3f1"/>
<rect x="286.8" y="335.5" width="68.5" height="75.0" fill="#1c9ad7" />
<path d="M385,409.3 L385,336.7 A38.36,17.28 0 0 1 452.3,336.7 L452.3,409.3 Z" fill="#1c9ad7"/>
<path d="M385,409.3 A38.36,17.28 0 0 1 452.3,409.3 Z" fill="#8fd3f1"/>
<path d="M483.3,409.3 L483.3,336.7 A38.42,17.28 0 0 1 550.7,336.7 L550.7,409.3 Z" fill="#1c9ad7"/>
<path d="M483.3,409.3 A38.42,17.28 0 0 1 550.7,409.3 Z" fill="#8fd3f1"/>
<path d="M583.3,409.3 L583.3,336.7 A38.59,17.28 0 0 1 651,336.7 L651,409.3 Z" fill="#1c9ad7"/>
<path d="M583.3,409.3 A38.59,17.28 0 0 1 651,409.3 Z" fill="#8fd3f1"/>
<rect x="177.7" y="297.0" width="69.0" height="21.0" fill="#1c9ad7" />
<rect x="177.7" y="318.0" width="69.0" height="2.4" fill="url(#tg)" />
<rect x="202.3" y="297.0" width="2.0" height="21.0" fill="#9c9c9c" />
<rect x="211.3" y="297.0" width="2.0" height="21.0" fill="#9c9c9c" />
<rect x="700.7" y="297.0" width="33.3" height="21.0" fill="#1c9ad7" />
<rect x="700.7" y="318.0" width="33.3" height="2.4" fill="url(#tg)" />
<path d="M738.3,367.8 L874.4,367.8 L874.4,425 L800,425 Z" fill="#bed464"/>
<path d="M748.5,367.8 L874.4,367.8 L874.4,418.6 C850,409 835,406 822,403 C805,399 792,398 781.5,394.5 C768,388 758,378 748.5,367.8 Z" fill="#0067b3"/>
<path d="M714.3,384.5 Q714.5,375.5 723,375.5 L729.3,375.5 L743.5,391 L739.5,394 L779,425.7 L721.8,425.7 L721.8,384.5 Z" fill="#bed464"/>
<linearGradient id="bx" x1="0" y1="0" x2="0" y2="1"><stop offset="0" stop-color="#dedede"/><stop offset="1" stop-color="#cfcfcf"/></linearGradient>
<rect x="700.9" y="418.2" width="11.9" height="7.5" fill="url(#bx)" />
<rect x="715.3" y="416.6" width="0.8" height="9.1" fill="#f4f7e4" />
<polygon points="712.20,414.60 715.90,411.80 715.90,416.50 712.20,419.30" fill="#1c9ad7"/>
<polygon points="712.20,414.60 715.90,411.80 715.90,413.90 712.20,416.70" fill="#fff"/>
<rect x="720.9" y="416.6" width="0.8" height="9.1" fill="#f4f7e4" />
<polygon points="717.78,414.60 721.48,411.80 721.48,416.50 717.78,419.30" fill="#1c9ad7"/>
<path d="M718.58,415.6 L720.68,414" stroke="#7cc4ea" stroke-width="0.7"/>
<rect x="726.5" y="416.6" width="0.8" height="9.1" fill="#f4f7e4" />
<polygon points="723.36,414.60 727.06,411.80 727.06,416.50 723.36,419.30" fill="#1c9ad7"/>
<polygon points="723.36,417.20 727.06,414.40 727.06,416.50 723.36,419.30" fill="#fff"/>
<rect x="732.0" y="416.6" width="0.8" height="9.1" fill="#f4f7e4" />
<polygon points="728.94,414.60 732.64,411.80 732.64,416.50 728.94,419.30" fill="#1c9ad7"/>
<path d="M729.74,415.6 L731.84,414" stroke="#7cc4ea" stroke-width="0.7"/>
<rect x="737.6" y="416.6" width="0.8" height="9.1" fill="#f4f7e4" />
<polygon points="734.52,414.60 738.22,411.80 738.22,416.50 734.52,419.30" fill="#1c9ad7"/>
<polygon points="734.52,414.60 738.22,411.80 738.22,413.90 734.52,416.70" fill="#fff"/>
<rect x="743.2" y="416.6" width="0.8" height="9.1" fill="#f4f7e4" />
<polygon points="740.10,414.60 743.80,411.80 743.80,416.50 740.10,419.30" fill="#1c9ad7"/>
<path d="M740.90,415.6 L743.00,414" stroke="#7cc4ea" stroke-width="0.7"/>
<rect x="748.8" y="416.6" width="0.8" height="9.1" fill="#f4f7e4" />
<polygon points="745.68,414.60 749.38,411.80 749.38,416.50 745.68,419.30" fill="#1c9ad7"/>
<polygon points="745.68,417.20 749.38,414.40 749.38,416.50 745.68,419.30" fill="#fff"/>
<rect x="754.4" y="416.6" width="0.8" height="9.1" fill="#f4f7e4" />
<polygon points="751.26,414.60 754.96,411.80 754.96,416.50 751.26,419.30" fill="#1c9ad7"/>
<path d="M752.06,415.6 L754.16,414" stroke="#7cc4ea" stroke-width="0.7"/>
<rect x="759.9" y="416.6" width="0.8" height="9.1" fill="#f4f7e4" />
<polygon points="756.84,414.60 760.54,411.80 760.54,416.50 756.84,419.30" fill="#1c9ad7"/>
<polygon points="756.84,414.60 760.54,411.80 760.54,413.90 756.84,416.70" fill="#fff"/>
<rect x="765.5" y="416.6" width="0.8" height="9.1" fill="#f4f7e4" />
<polygon points="762.42,414.60 766.12,411.80 766.12,416.50 762.42,419.30" fill="#1c9ad7"/>
<path d="M763.22,415.6 L765.32,414" stroke="#7cc4ea" stroke-width="0.7"/>
<rect x="771.1" y="416.6" width="0.8" height="9.1" fill="#f4f7e4" />
<polygon points="768.00,414.60 771.70,411.80 771.70,416.50 768.00,419.30" fill="#1c9ad7"/>
<polygon points="768.00,417.20 771.70,414.40 771.70,416.50 768.00,419.30" fill="#fff"/>
<g fill="#fff">
<ellipse cx="591.5" cy="90.4" rx="34.5" ry="10.8"/>
<path d="M624.3,72 L621,72 Q620.3,77.8 616.3,81 L616.3,98.5 L619.7,100.7 L624.3,100.7 Z"/>
<path d="M586.1,102.6 L602,102.6 L600.6,106 Q600.2,106.9 599.2,106.9 L588.9,106.9 Q587.9,106.9 587.5,106 Z"/>
<circle cx="628" cy="90.4" r="1.6"/>
</g>
<path d="M562.7,87.4 Q586,74.4 622.2,90.6" fill="none" stroke="#bed464" stroke-width="0.8"/>
<rect x="589.0" y="104.1" width="1.8" height="1.5" fill="#bed464" rx="0.5"/>
<rect x="592.8" y="104.1" width="1.8" height="1.5" fill="#bed464" rx="0.5"/>
<rect x="596.6" y="104.1" width="1.8" height="1.5" fill="#bed464" rx="0.5"/>
<rect x="126.3" y="49.0" width="0.8" height="6.8" fill="#8b8b7a"/>
<path d="M126.7,44.0 C128.3,44.0 129.5,48.5 129.7,51.2 C129.8,53.2 128.3,54.0 126.7,54.0 C125.0,54.0 123.6,53.2 123.7,51.2 C123.9,48.5 125.0,44.0 126.7,44.0 Z" fill="#2ca836"/>
<rect x="137.9" y="48.3" width="0.9" height="8.2" fill="#8b8b7a"/>
<circle cx="138.3" cy="48.3" r="5.65" fill="#078c3b"/>
<rect x="147.9" y="51.7" width="0.8" height="6.8" fill="#8b8b7a"/>
<path d="M148.3,46.7 C150.0,46.7 151.1,51.2 151.3,54.0 C151.4,56.0 150.0,56.7 148.3,56.7 C146.7,56.7 145.2,56.0 145.3,54.0 C145.5,51.2 146.7,46.7 148.3,46.7 Z" fill="#0b6a2d"/>
<rect x="173.9" y="58.3" width="0.8" height="6.8" fill="#8b8b7a"/>
<path d="M174.3,53.3 C176.0,53.3 177.1,57.8 177.3,60.5 C177.4,62.5 176.0,63.3 174.3,63.3 C172.7,63.3 171.2,62.5 171.3,60.5 C171.5,57.8 172.7,53.3 174.3,53.3 Z" fill="#2ca836"/>
<rect x="196.9" y="55.0" width="0.9" height="7.8" fill="#8b8b7a"/>
<circle cx="197.3" cy="55.0" r="5.15" fill="#2ca836"/>
<rect x="205.6" y="55.0" width="0.8" height="6.8" fill="#8b8b7a"/>
<path d="M206.0,50.0 C207.7,50.0 208.8,54.5 209.0,57.2 C209.1,59.2 207.7,60.0 206.0,60.0 C204.3,60.0 202.9,59.2 203.0,57.2 C203.2,54.5 204.3,50.0 206.0,50.0 Z" fill="#2ca836"/>
<rect x="177.3" y="71.7" width="0.8" height="6.8" fill="#8b8b7a"/>
<path d="M177.7,66.7 C179.3,66.7 180.5,71.2 180.7,74.0 C180.8,76.0 179.3,76.7 177.7,76.7 C176.0,76.7 174.6,76.0 174.7,74.0 C174.9,71.2 176.0,66.7 177.7,66.7 Z" fill="#0b6a2d"/>
<rect x="188.6" y="67.7" width="0.9" height="8.1" fill="#8b8b7a"/>
<circle cx="189.0" cy="67.7" r="5.45" fill="#078c3b"/>
<rect x="171.9" y="77.7" width="0.9" height="8.1" fill="#8b8b7a"/>
<circle cx="172.3" cy="77.7" r="5.45" fill="#078c3b"/>
<rect x="184.9" y="85.7" width="0.8" height="6.8" fill="#8b8b7a"/>
<path d="M185.3,80.7 C187.0,80.7 188.1,85.2 188.3,88.0 C188.4,90.0 187.0,90.7 185.3,90.7 C183.7,90.7 182.2,90.0 182.3,88.0 C182.5,85.2 183.7,80.7 185.3,80.7 Z" fill="#2ca836"/>
<rect x="179.6" y="104.0" width="0.9" height="8.1" fill="#8b8b7a"/>
<circle cx="180.0" cy="104.0" r="5.45" fill="#2ca836"/>
<rect x="94.6" y="151.7" width="0.9" height="7.8" fill="#8b8b7a"/>
<circle cx="95.0" cy="151.7" r="5.15" fill="#2ca836"/>
<rect x="99.6" y="156.0" width="0.8" height="6.8" fill="#8b8b7a"/>
<path d="M100.0,151.0 C101.7,151.0 102.8,155.5 103.0,158.2 C103.1,160.2 101.7,161.0 100.0,161.0 C98.3,161.0 96.9,160.2 97.0,158.2 C97.2,155.5 98.3,151.0 100.0,151.0 Z" fill="#0b6a2d"/>
<rect x="117.3" y="159.3" width="0.8" height="6.8" fill="#8b8b7a"/>
<path d="M117.7,154.3 C119.4,154.3 120.5,158.8 120.7,161.6 C120.8,163.6 119.4,164.3 117.7,164.3 C116.0,164.3 114.6,163.6 114.7,161.6 C114.9,158.8 116.0,154.3 117.7,154.3 Z" fill="#0b6a2d"/>
<rect x="123.6" y="154.3" width="0.9" height="8.1" fill="#8b8b7a"/>
<circle cx="124.0" cy="154.3" r="5.45" fill="#2ca836"/>
<rect x="133.6" y="164.3" width="0.9" height="8.1" fill="#8b8b7a"/>
<circle cx="134.0" cy="164.3" r="5.45" fill="#078c3b"/>
<rect x="143.6" y="160.0" width="0.8" height="6.8" fill="#8b8b7a"/>
<path d="M144.0,155.0 C145.7,155.0 146.8,159.5 147.0,162.2 C147.1,164.2 145.7,165.0 144.0,165.0 C142.3,165.0 140.9,164.2 141.0,162.2 C141.2,159.5 142.3,155.0 144.0,155.0 Z" fill="#2ca836"/>
<rect x="161.3" y="164.0" width="0.8" height="6.8" fill="#8b8b7a"/>
<path d="M161.7,159.0 C163.3,159.0 164.5,163.5 164.7,166.2 C164.8,168.2 163.3,169.0 161.7,169.0 C160.0,169.0 158.6,168.2 158.7,166.2 C158.9,163.5 160.0,159.0 161.7,159.0 Z" fill="#0b6a2d"/>
<rect x="166.3" y="155.0" width="0.8" height="6.8" fill="#8b8b7a"/>
<path d="M166.7,150.0 C168.3,150.0 169.5,154.5 169.7,157.2 C169.8,159.2 168.3,160.0 166.7,160.0 C165.0,160.0 163.6,159.2 163.7,157.2 C163.9,154.5 165.0,150.0 166.7,150.0 Z" fill="#2ca836"/>
<rect x="282.3" y="122.7" width="0.8" height="6.8" fill="#8b8b7a"/>
<path d="M282.7,117.7 C284.3,117.7 285.5,122.2 285.7,125.0 C285.8,127.0 284.3,127.7 282.7,127.7 C281.1,127.7 279.6,127.0 279.7,125.0 C279.9,122.2 281.1,117.7 282.7,117.7 Z" fill="#0b6a2d"/>
<rect x="273.6" y="129.3" width="0.9" height="8.1" fill="#8b8b7a"/>
<circle cx="274.0" cy="129.3" r="5.45" fill="#2ca836"/>
<rect x="281.3" y="143.3" width="0.8" height="6.8" fill="#8b8b7a"/>
<path d="M281.7,138.3 C283.3,138.3 284.5,142.8 284.7,145.6 C284.8,147.6 283.3,148.3 281.7,148.3 C280.1,148.3 278.6,147.6 278.7,145.6 C278.9,142.8 280.1,138.3 281.7,138.3 Z" fill="#2ca836"/>
<rect x="281.3" y="157.3" width="0.8" height="6.8" fill="#8b8b7a"/>
<path d="M281.7,152.3 C283.3,152.3 284.5,156.8 284.7,159.6 C284.8,161.6 283.3,162.3 281.7,162.3 C280.1,162.3 278.6,161.6 278.7,159.6 C278.9,156.8 280.1,152.3 281.7,152.3 Z" fill="#2ca836"/>
<rect x="281.6" y="174.3" width="0.9" height="8.1" fill="#8b8b7a"/>
<circle cx="282.0" cy="174.3" r="5.45" fill="#0b6a2d"/>
<rect x="265.3" y="190.7" width="0.9" height="8.1" fill="#8b8b7a"/>
<circle cx="265.7" cy="190.7" r="5.45" fill="#2ca836"/>
<rect x="321.6" y="142.7" width="0.8" height="6.8" fill="#8b8b7a"/>
<path d="M322.0,137.7 C323.6,137.7 324.8,142.2 325.0,144.9 C325.1,146.9 323.6,147.7 322.0,147.7 C320.4,147.7 318.9,146.9 319.0,144.9 C319.2,142.2 320.4,137.7 322.0,137.7 Z" fill="#2ca836"/>
<rect x="331.9" y="140.7" width="0.9" height="8.1" fill="#8b8b7a"/>
<circle cx="332.3" cy="140.7" r="5.45" fill="#2ca836"/>
<rect x="353.6" y="155.0" width="0.8" height="6.8" fill="#8b8b7a"/>
<path d="M354.0,150.0 C355.6,150.0 356.8,154.5 357.0,157.2 C357.1,159.2 355.6,160.0 354.0,160.0 C352.4,160.0 350.9,159.2 351.0,157.2 C351.2,154.5 352.4,150.0 354.0,150.0 Z" fill="#2ca836"/>
<rect x="365.6" y="164.3" width="0.9" height="8.1" fill="#8b8b7a"/>
<circle cx="366.0" cy="164.3" r="5.45" fill="#2ca836"/>
<rect x="308.6" y="176.7" width="0.8" height="6.8" fill="#8b8b7a"/>
<path d="M309.0,171.7 C310.6,171.7 311.8,176.2 312.0,178.9 C312.1,180.9 310.6,181.7 309.0,181.7 C307.4,181.7 305.9,180.9 306.0,178.9 C306.2,176.2 307.4,171.7 309.0,171.7 Z" fill="#2ca836"/>
<rect x="332.1" y="175.7" width="0.8" height="6.8" fill="#8b8b7a"/>
<path d="M332.5,170.7 C334.1,170.7 335.3,175.2 335.5,177.9 C335.6,179.9 334.1,180.7 332.5,180.7 C330.9,180.7 329.4,179.9 329.5,177.9 C329.7,175.2 330.9,170.7 332.5,170.7 Z" fill="#0b6a2d"/>
<rect x="341.9" y="175.7" width="0.9" height="8.1" fill="#8b8b7a"/>
<circle cx="342.3" cy="175.7" r="5.45" fill="#2ca836"/>
<rect x="167.9" y="207.7" width="0.8" height="6.8" fill="#8b8b7a"/>
<path d="M168.3,202.7 C170.0,202.7 171.1,207.2 171.3,209.9 C171.4,211.9 170.0,212.7 168.3,212.7 C166.7,212.7 165.2,211.9 165.3,209.9 C165.5,207.2 166.7,202.7 168.3,202.7 Z" fill="#0b6a2d"/>
<rect x="176.9" y="207.7" width="0.8" height="6.8" fill="#8b8b7a"/>
<path d="M177.3,202.7 C179.0,202.7 180.1,207.2 180.3,209.9 C180.4,211.9 179.0,212.7 177.3,212.7 C175.7,212.7 174.2,211.9 174.3,209.9 C174.5,207.2 175.7,202.7 177.3,202.7 Z" fill="#2ca836"/>
<rect x="265.6" y="208.3" width="0.8" height="6.8" fill="#8b8b7a"/>
<path d="M266.0,203.3 C267.6,203.3 268.8,207.8 269.0,210.6 C269.1,212.6 267.6,213.3 266.0,213.3 C264.4,213.3 262.9,212.6 263.0,210.6 C263.2,207.8 264.4,203.3 266.0,203.3 Z" fill="#078c3b"/>
<rect x="273.9" y="208.3" width="0.8" height="6.8" fill="#8b8b7a"/>
<path d="M274.3,203.3 C275.9,203.3 277.1,207.8 277.3,210.6 C277.4,212.6 275.9,213.3 274.3,213.3 C272.7,213.3 271.2,212.6 271.3,210.6 C271.5,207.8 272.7,203.3 274.3,203.3 Z" fill="#2ca836"/>
<rect x="282.6" y="208.3" width="0.8" height="6.8" fill="#8b8b7a"/>
<path d="M283.0,203.3 C284.6,203.3 285.8,207.8 286.0,210.6 C286.1,212.6 284.6,213.3 283.0,213.3 C281.4,213.3 279.9,212.6 280.0,210.6 C280.2,207.8 281.4,203.3 283.0,203.3 Z" fill="#0b6a2d"/>
<rect x="291.3" y="208.3" width="0.8" height="6.8" fill="#8b8b7a"/>
<path d="M291.7,203.3 C293.3,203.3 294.5,207.8 294.7,210.6 C294.8,212.6 293.3,213.3 291.7,213.3 C290.1,213.3 288.6,212.6 288.7,210.6 C288.9,207.8 290.1,203.3 291.7,203.3 Z" fill="#078c3b"/>
<rect x="405.3" y="190.0" width="0.8" height="6.8" fill="#8b8b7a"/>
<path d="M405.7,185.0 C407.3,185.0 408.5,189.5 408.7,192.2 C408.8,194.2 407.3,195.0 405.7,195.0 C404.1,195.0 402.6,194.2 402.7,192.2 C402.9,189.5 404.1,185.0 405.7,185.0 Z" fill="#0b6a2d"/>
<rect x="412.3" y="187.7" width="0.8" height="6.8" fill="#8b8b7a"/>
<path d="M412.7,182.7 C414.3,182.7 415.5,187.2 415.7,189.9 C415.8,191.9 414.3,192.7 412.7,192.7 C411.1,192.7 409.6,191.9 409.7,189.9 C409.9,187.2 411.1,182.7 412.7,182.7 Z" fill="#2ca836"/>
<rect x="419.6" y="185.7" width="0.8" height="6.8" fill="#8b8b7a"/>
<path d="M420.0,180.7 C421.6,180.7 422.8,185.2 423.0,187.9 C423.1,189.9 421.6,190.7 420.0,190.7 C418.4,190.7 416.9,189.9 417.0,187.9 C417.2,185.2 418.4,180.7 420.0,180.7 Z" fill="#0b6a2d"/>
<rect x="434.6" y="180.0" width="0.8" height="6.8" fill="#8b8b7a"/>
<path d="M435.0,175.0 C436.6,175.0 437.8,179.5 438.0,182.2 C438.1,184.2 436.6,185.0 435.0,185.0 C433.4,185.0 431.9,184.2 432.0,182.2 C432.2,179.5 433.4,175.0 435.0,175.0 Z" fill="#0b6a2d"/>
<rect x="442.9" y="177.3" width="0.8" height="6.8" fill="#8b8b7a"/>
<path d="M443.3,172.3 C444.9,172.3 446.1,176.8 446.3,179.6 C446.4,181.6 444.9,182.3 443.3,182.3 C441.7,182.3 440.2,181.6 440.3,179.6 C440.5,176.8 441.7,172.3 443.3,172.3 Z" fill="#2ca836"/>
<rect x="59.6" y="212.7" width="0.8" height="6.8" fill="#8b8b7a"/>
<path d="M60.0,207.7 C61.6,207.7 62.8,212.2 63.0,214.9 C63.1,216.9 61.6,217.7 60.0,217.7 C58.4,217.7 56.9,216.9 57.0,214.9 C57.2,212.2 58.4,207.7 60.0,207.7 Z" fill="#078c3b"/>
<rect x="88.6" y="212.7" width="0.8" height="6.8" fill="#8b8b7a"/>
<path d="M89.0,207.7 C90.7,207.7 91.8,212.2 92.0,214.9 C92.1,216.9 90.7,217.7 89.0,217.7 C87.3,217.7 85.9,216.9 86.0,214.9 C86.2,212.2 87.3,207.7 89.0,207.7 Z" fill="#078c3b"/>
<rect x="105.6" y="227.7" width="0.8" height="6.8" fill="#8b8b7a"/>
<path d="M106.0,222.7 C107.7,222.7 108.8,227.2 109.0,229.9 C109.1,231.9 107.7,232.7 106.0,232.7 C104.3,232.7 102.9,231.9 103.0,229.9 C103.2,227.2 104.3,222.7 106.0,222.7 Z" fill="#2ca836"/>
<rect x="106.9" y="240.0" width="0.9" height="8.1" fill="#8b8b7a"/>
<circle cx="107.3" cy="240.0" r="5.45" fill="#078c3b"/>
<rect x="88.6" y="237.7" width="0.8" height="6.8" fill="#8b8b7a"/>
<path d="M89.0,232.7 C90.7,232.7 91.8,237.2 92.0,239.9 C92.1,241.9 90.7,242.7 89.0,242.7 C87.3,242.7 85.9,241.9 86.0,239.9 C86.2,237.2 87.3,232.7 89.0,232.7 Z" fill="#2ca836"/>
<rect x="59.6" y="233.0" width="0.8" height="6.8" fill="#8b8b7a"/>
<path d="M60.0,228.0 C61.6,228.0 62.8,232.5 63.0,235.2 C63.1,237.2 61.6,238.0 60.0,238.0 C58.4,238.0 56.9,237.2 57.0,235.2 C57.2,232.5 58.4,228.0 60.0,228.0 Z" fill="#078c3b"/>
<rect x="95.6" y="271.7" width="0.8" height="6.8" fill="#8b8b7a"/>
<path d="M96.0,266.7 C97.7,266.7 98.8,271.2 99.0,273.9 C99.1,275.9 97.7,276.7 96.0,276.7 C94.3,276.7 92.9,275.9 93.0,273.9 C93.2,271.2 94.3,266.7 96.0,266.7 Z" fill="#2ca836"/>
<rect x="100.6" y="276.0" width="0.9" height="8.1" fill="#8b8b7a"/>
<circle cx="101.0" cy="276.0" r="5.45" fill="#0b6a2d"/>
<rect x="96.3" y="292.3" width="0.8" height="6.8" fill="#8b8b7a"/>
<path d="M96.7,287.3 C98.4,287.3 99.5,291.8 99.7,294.6 C99.8,296.6 98.4,297.3 96.7,297.3 C95.0,297.3 93.6,296.6 93.7,294.6 C93.9,291.8 95.0,287.3 96.7,287.3 Z" fill="#2ca836"/>
<rect x="103.9" y="298.3" width="0.9" height="8.1" fill="#8b8b7a"/>
<circle cx="104.3" cy="298.3" r="5.45" fill="#2ca836"/>
<rect x="123.6" y="305.0" width="0.8" height="6.8" fill="#8b8b7a"/>
<path d="M124.0,300.0 C125.7,300.0 126.8,304.5 127.0,307.2 C127.1,309.2 125.7,310.0 124.0,310.0 C122.3,310.0 120.9,309.2 121.0,307.2 C121.2,304.5 122.3,300.0 124.0,300.0 Z" fill="#2ca836"/>
<rect x="123.6" y="314.0" width="0.8" height="6.8" fill="#8b8b7a"/>
<path d="M124.0,309.0 C125.7,309.0 126.8,313.5 127.0,316.2 C127.1,318.2 125.7,319.0 124.0,319.0 C122.3,319.0 120.9,318.2 121.0,316.2 C121.2,313.5 122.3,309.0 124.0,309.0 Z" fill="#0b6a2d"/>
<rect x="102.3" y="322.0" width="0.8" height="6.8" fill="#8b8b7a"/>
<path d="M102.7,317.0 C104.4,317.0 105.5,321.5 105.7,324.2 C105.8,326.2 104.4,327.0 102.7,327.0 C101.0,327.0 99.6,326.2 99.7,324.2 C99.9,321.5 101.0,317.0 102.7,317.0 Z" fill="#0b6a2d"/>
<rect x="96.3" y="328.7" width="0.8" height="6.8" fill="#8b8b7a"/>
<path d="M96.7,323.7 C98.4,323.7 99.5,328.2 99.7,330.9 C99.8,332.9 98.4,333.7 96.7,333.7 C95.0,333.7 93.6,332.9 93.7,330.9 C93.9,328.2 95.0,323.7 96.7,323.7 Z" fill="#2ca836"/>
<rect x="103.9" y="333.3" width="0.8" height="6.8" fill="#8b8b7a"/>
<path d="M104.3,328.3 C106.0,328.3 107.1,332.8 107.3,335.6 C107.4,337.6 106.0,338.3 104.3,338.3 C102.6,338.3 101.2,337.6 101.3,335.6 C101.5,332.8 102.6,328.3 104.3,328.3 Z" fill="#0b6a2d"/>
<rect x="96.9" y="342.0" width="0.9" height="8.1" fill="#8b8b7a"/>
<circle cx="97.3" cy="342.0" r="5.45" fill="#2ca836"/>
<rect x="95.9" y="359.3" width="0.9" height="7.8" fill="#8b8b7a"/>
<circle cx="96.3" cy="359.3" r="5.15" fill="#0b6a2d"/>
<rect x="101.9" y="369.3" width="0.8" height="6.8" fill="#8b8b7a"/>
<path d="M102.3,364.3 C104.0,364.3 105.1,368.8 105.3,371.6 C105.4,373.6 104.0,374.3 102.3,374.3 C100.6,374.3 99.2,373.6 99.3,371.6 C99.5,368.8 100.6,364.3 102.3,364.3 Z" fill="#0b6a2d"/>
<rect x="96.3" y="375.3" width="0.8" height="6.8" fill="#8b8b7a"/>
<path d="M96.7,370.3 C98.4,370.3 99.5,374.8 99.7,377.6 C99.8,379.6 98.4,380.3 96.7,380.3 C95.0,380.3 93.6,379.6 93.7,377.6 C93.9,374.8 95.0,370.3 96.7,370.3 Z" fill="#2ca836"/>
<rect x="101.9" y="390.3" width="0.9" height="8.1" fill="#8b8b7a"/>
<circle cx="102.3" cy="390.3" r="5.45" fill="#2ca836"/>
<rect x="123.6" y="319.3" width="0.8" height="6.8" fill="#8b8b7a"/>
<path d="M124.0,314.3 C125.7,314.3 126.8,318.8 127.0,321.6 C127.1,323.6 125.7,324.3 124.0,324.3 C122.3,324.3 120.9,323.6 121.0,321.6 C121.2,318.8 122.3,314.3 124.0,314.3 Z" fill="#2ca836"/>
<rect x="122.9" y="355.0" width="0.8" height="6.8" fill="#8b8b7a"/>
<path d="M123.3,350.0 C125.0,350.0 126.1,354.5 126.3,357.2 C126.4,359.2 125.0,360.0 123.3,360.0 C121.6,360.0 120.2,359.2 120.3,357.2 C120.5,354.5 121.6,350.0 123.3,350.0 Z" fill="#078c3b"/>
<rect x="131.6" y="355.0" width="0.8" height="6.8" fill="#8b8b7a"/>
<path d="M132.0,350.0 C133.7,350.0 134.8,354.5 135.0,357.2 C135.1,359.2 133.7,360.0 132.0,360.0 C130.3,360.0 128.9,359.2 129.0,357.2 C129.2,354.5 130.3,350.0 132.0,350.0 Z" fill="#2ca836"/>
<rect x="148.6" y="355.0" width="0.8" height="6.8" fill="#8b8b7a"/>
<path d="M149.0,350.0 C150.7,350.0 151.8,354.5 152.0,357.2 C152.1,359.2 150.7,360.0 149.0,360.0 C147.3,360.0 145.9,359.2 146.0,357.2 C146.2,354.5 147.3,350.0 149.0,350.0 Z" fill="#0b6a2d"/>
<rect x="120.3" y="372.7" width="0.8" height="6.8" fill="#8b8b7a"/>
<path d="M120.7,367.7 C122.4,367.7 123.5,372.2 123.7,374.9 C123.8,376.9 122.4,377.7 120.7,377.7 C119.0,377.7 117.6,376.9 117.7,374.9 C117.9,372.2 119.0,367.7 120.7,367.7 Z" fill="#0b6a2d"/>
<rect x="120.3" y="377.7" width="0.8" height="6.8" fill="#8b8b7a"/>
<path d="M120.7,372.7 C122.4,372.7 123.5,377.2 123.7,379.9 C123.8,381.9 122.4,382.7 120.7,382.7 C119.0,382.7 117.6,381.9 117.7,379.9 C117.9,377.2 119.0,372.7 120.7,372.7 Z" fill="#078c3b"/>
<rect x="120.3" y="400.3" width="0.8" height="6.8" fill="#8b8b7a"/>
<path d="M120.7,395.3 C122.4,395.3 123.5,399.8 123.7,402.6 C123.8,404.6 122.4,405.3 120.7,405.3 C119.0,405.3 117.6,404.6 117.7,402.6 C117.9,399.8 119.0,395.3 120.7,395.3 Z" fill="#0b6a2d"/>
<rect x="120.3" y="406.7" width="0.8" height="6.8" fill="#8b8b7a"/>
<path d="M120.7,401.7 C122.4,401.7 123.5,406.2 123.7,408.9 C123.8,410.9 122.4,411.7 120.7,411.7 C119.0,411.7 117.6,410.9 117.7,408.9 C117.9,406.2 119.0,401.7 120.7,401.7 Z" fill="#2ca836"/>
<rect x="128.6" y="414.3" width="0.8" height="6.8" fill="#8b8b7a"/>
<path d="M129.0,409.3 C130.7,409.3 131.8,413.8 132.0,416.6 C132.1,418.6 130.7,419.3 129.0,419.3 C127.3,419.3 125.9,418.6 126.0,416.6 C126.2,413.8 127.3,409.3 129.0,409.3 Z" fill="#0b6a2d"/>
<rect x="135.6" y="412.7" width="0.8" height="6.8" fill="#8b8b7a"/>
<path d="M136.0,407.7 C137.7,407.7 138.8,412.2 139.0,414.9 C139.1,416.9 137.7,417.7 136.0,417.7 C134.3,417.7 132.9,416.9 133.0,414.9 C133.2,412.2 134.3,407.7 136.0,407.7 Z" fill="#2ca836"/>
<rect x="-0.9" y="261.0" width="0.8" height="6.8" fill="#8b8b7a"/>
<path d="M-0.5,256.0 C1.2,256.0 2.3,260.5 2.5,263.2 C2.6,265.2 1.2,266.0 -0.5,266.0 C-2.2,266.0 -3.6,265.2 -3.5,263.2 C-3.3,260.5 -2.2,256.0 -0.5,256.0 Z" fill="#2ca836"/>
<rect x="-0.9" y="283.5" width="0.8" height="6.8" fill="#8b8b7a"/>
<path d="M-0.5,278.5 C1.2,278.5 2.3,283.0 2.5,285.8 C2.6,287.8 1.2,288.5 -0.5,288.5 C-2.2,288.5 -3.6,287.8 -3.5,285.8 C-3.3,283.0 -2.2,278.5 -0.5,278.5 Z" fill="#2ca836"/>
<rect x="-0.9" y="301.0" width="0.8" height="6.8" fill="#8b8b7a"/>
<path d="M-0.5,296.0 C1.2,296.0 2.3,300.5 2.5,303.2 C2.6,305.2 1.2,306.0 -0.5,306.0 C-2.2,306.0 -3.6,305.2 -3.5,303.2 C-3.3,300.5 -2.2,296.0 -0.5,296.0 Z" fill="#2ca836"/>
<rect x="2.9" y="331.0" width="0.8" height="6.8" fill="#8b8b7a"/>
<path d="M3.3,326.0 C5.0,326.0 6.1,330.5 6.3,333.2 C6.4,335.2 5.0,336.0 3.3,336.0 C1.6,336.0 0.2,335.2 0.3,333.2 C0.5,330.5 1.6,326.0 3.3,326.0 Z" fill="#2ca836"/>
<rect x="2.9" y="352.7" width="0.8" height="6.8" fill="#8b8b7a"/>
<path d="M3.3,347.7 C5.0,347.7 6.1,352.2 6.3,354.9 C6.4,356.9 5.0,357.7 3.3,357.7 C1.6,357.7 0.2,356.9 0.3,354.9 C0.5,352.2 1.6,347.7 3.3,347.7 Z" fill="#0b6a2d"/>
<rect x="4.6" y="366.0" width="0.9" height="8.1" fill="#8b8b7a"/>
<circle cx="5.0" cy="366.0" r="5.45" fill="#2ca836"/>
<rect x="3.6" y="389.3" width="0.8" height="6.8" fill="#8b8b7a"/>
<path d="M4.0,384.3 C5.7,384.3 6.8,388.8 7.0,391.6 C7.1,393.6 5.7,394.3 4.0,394.3 C2.3,394.3 0.9,393.6 1.0,391.6 C1.2,388.8 2.3,384.3 4.0,384.3 Z" fill="#0b6a2d"/>
<rect x="-2.4" y="394.0" width="0.9" height="8.1" fill="#8b8b7a"/>
<circle cx="-2.0" cy="394.0" r="5.45" fill="#2ca836"/>
<rect x="399.1" y="318.5" width="0.9" height="8.0" fill="#8b8b7a"/>
<circle cx="399.5" cy="318.5" r="5.3500000000000005" fill="#078c3b"/>
<rect x="652.9" y="309.7" width="0.9" height="7.8" fill="#8b8b7a"/>
<circle cx="653.3" cy="309.7" r="5.15" fill="#078c3b"/>
<rect x="649.6" y="321.3" width="0.8" height="6.8" fill="#8b8b7a"/>
<path d="M650.0,316.3 C651.6,316.3 652.8,320.8 653.0,323.6 C653.1,325.6 651.6,326.3 650.0,326.3 C648.4,326.3 646.9,325.6 647.0,323.6 C647.2,320.8 648.4,316.3 650.0,316.3 Z" fill="#2ca836"/>
<rect x="659.6" y="319.7" width="0.9" height="8.1" fill="#8b8b7a"/>
<circle cx="660.0" cy="319.7" r="5.45" fill="#078c3b"/>
<rect x="759.9" y="313.8" width="0.8" height="6.8" fill="#8b8b7a"/>
<path d="M760.3,308.8 C761.9,308.8 763.1,313.3 763.3,316.1 C763.4,318.1 761.9,318.8 760.3,318.8 C758.6,318.8 757.2,318.1 757.3,316.1 C757.5,313.3 758.6,308.8 760.3,308.8 Z" fill="#078c3b"/>
<rect x="765.0" y="308.7" width="0.8" height="6.8" fill="#8b8b7a"/>
<path d="M765.4,303.7 C767.0,303.7 768.2,308.2 768.4,310.9 C768.5,312.9 767.0,313.7 765.4,313.7 C763.8,313.7 762.3,312.9 762.4,310.9 C762.6,308.2 763.8,303.7 765.4,303.7 Z" fill="#0b6a2d"/>
<rect x="769.0" y="312.0" width="0.8" height="6.8" fill="#8b8b7a"/>
<path d="M769.4,307.0 C771.0,307.0 772.2,311.5 772.4,314.2 C772.5,316.2 771.0,317.0 769.4,317.0 C767.8,317.0 766.3,316.2 766.4,314.2 C766.6,311.5 767.8,307.0 769.4,307.0 Z" fill="#078c3b"/>
<rect x="700.1" y="379.0" width="0.9" height="8.1" fill="#8b8b7a"/>
<circle cx="700.5" cy="379.0" r="5.45" fill="#0b6a2d"/>
<rect x="700.3" y="392.0" width="0.9" height="8.1" fill="#8b8b7a"/>
<circle cx="700.7" cy="392.0" r="5.45" fill="#2ca836"/>
<rect x="747.6" y="367.8" width="0.8" height="6.8" fill="#8b8b7a"/>
<path d="M748.0,362.8 C749.6,362.8 750.8,367.3 751.0,370.1 C751.1,372.1 749.6,372.8 748.0,372.8 C746.4,372.8 744.9,372.1 745.0,370.1 C745.2,367.3 746.4,362.8 748.0,362.8 Z" fill="#2ca836"/>
<rect x="727.8" y="387.0" width="0.9" height="8.1" fill="#8b8b7a"/>
<circle cx="728.2" cy="387.0" r="5.45" fill="#2ca836"/>
<rect x="736.9" y="400.4" width="0.8" height="6.8" fill="#8b8b7a"/>
<path d="M737.3,395.4 C738.9,395.4 740.1,399.9 740.3,402.6 C740.4,404.6 738.9,405.4 737.3,405.4 C735.6,405.4 734.2,404.6 734.3,402.6 C734.5,399.9 735.6,395.4 737.3,395.4 Z" fill="#2ca836"/>
<rect x="781.9" y="394.6" width="0.8" height="6.8" fill="#8b8b7a"/>
<path d="M782.3,389.6 C783.9,389.6 785.1,394.1 785.3,396.9 C785.4,398.9 783.9,399.6 782.3,399.6 C780.6,399.6 779.2,398.9 779.3,396.9 C779.5,394.1 780.6,389.6 782.3,389.6 Z" fill="#2ca836"/>
<rect x="792.3" y="404.3" width="0.9" height="8.1" fill="#8b8b7a"/>
<circle cx="792.7" cy="404.3" r="5.45" fill="#078c3b"/>
<rect x="801.1" y="408.0" width="0.9" height="8.1" fill="#8b8b7a"/>
<circle cx="801.5" cy="408.0" r="5.45" fill="#0b6a2d"/>
<rect x="820.0" y="403.4" width="0.9" height="7.2" fill="#8b8b7a"/>
<circle cx="820.4" cy="403.4" r="4.65" fill="#078c3b"/>
<rect x="853.3" y="414.8" width="0.9" height="7.5" fill="#8b8b7a"/>
<circle cx="853.7" cy="414.8" r="4.8500000000000005" fill="#2ca836"/>
<rect x="866.6" y="407.3" width="0.9" height="8.1" fill="#8b8b7a"/>
<circle cx="867.0" cy="407.3" r="5.45" fill="#0b6a2d"/>
<rect x="863.4" y="414.6" width="0.9" height="8.1" fill="#8b8b7a"/>
<circle cx="863.8" cy="414.6" r="5.45" fill="#078c3b"/>
<rect x="885.6" y="192.7" width="0.8" height="6.8" fill="#8b8b7a"/>
<path d="M886.0,187.7 C887.6,187.7 888.8,192.2 889.0,194.9 C889.1,196.9 887.6,197.7 886.0,197.7 C884.4,197.7 882.9,196.9 883.0,194.9 C883.2,192.2 884.4,187.7 886.0,187.7 Z" fill="#2ca836"/>
<rect x="885.6" y="205.0" width="0.8" height="6.8" fill="#8b8b7a"/>
<path d="M886.0,200.0 C887.6,200.0 888.8,204.5 889.0,207.2 C889.1,209.2 887.6,210.0 886.0,210.0 C884.4,210.0 882.9,209.2 883.0,207.2 C883.2,204.5 884.4,200.0 886.0,200.0 Z" fill="#078c3b"/>
<rect x="886.3" y="244.3" width="0.9" height="8.2" fill="#8b8b7a"/>
<circle cx="886.7" cy="244.3" r="5.65" fill="#2ca836"/>
<rect x="885.6" y="258.5" width="0.8" height="6.8" fill="#8b8b7a"/>
<path d="M886.0,253.5 C887.6,253.5 888.8,258.0 889.0,260.8 C889.1,262.8 887.6,263.5 886.0,263.5 C884.4,263.5 882.9,262.8 883.0,260.8 C883.2,258.0 884.4,253.5 886.0,253.5 Z" fill="#078c3b"/>
<rect x="885.6" y="286.2" width="0.8" height="6.8" fill="#8b8b7a"/>
<path d="M886.0,281.2 C887.6,281.2 888.8,285.7 889.0,288.4 C889.1,290.4 887.6,291.2 886.0,291.2 C884.4,291.2 882.9,290.4 883.0,288.4 C883.2,285.7 884.4,281.2 886.0,281.2 Z" fill="#2ca836"/>
<rect x="885.6" y="291.5" width="0.8" height="6.8" fill="#8b8b7a"/>
<path d="M886.0,286.5 C887.6,286.5 888.8,291.0 889.0,293.8 C889.1,295.8 887.6,296.5 886.0,296.5 C884.4,296.5 882.9,295.8 883.0,293.8 C883.2,291.0 884.4,286.5 886.0,286.5 Z" fill="#078c3b"/>
<rect x="885.6" y="306.5" width="0.8" height="6.8" fill="#8b8b7a"/>
<path d="M886.0,301.5 C887.6,301.5 888.8,306.0 889.0,308.8 C889.1,310.8 887.6,311.5 886.0,311.5 C884.4,311.5 882.9,310.8 883.0,308.8 C883.2,306.0 884.4,301.5 886.0,301.5 Z" fill="#0b6a2d"/>
<rect x="885.6" y="312.2" width="0.8" height="6.8" fill="#8b8b7a"/>
<path d="M886.0,307.2 C887.6,307.2 888.8,311.7 889.0,314.4 C889.1,316.4 887.6,317.2 886.0,317.2 C884.4,317.2 882.9,316.4 883.0,314.4 C883.2,311.7 884.4,307.2 886.0,307.2 Z" fill="#078c3b"/>
<rect x="885.6" y="328.2" width="0.8" height="6.8" fill="#8b8b7a"/>
<path d="M886.0,323.2 C887.6,323.2 888.8,327.7 889.0,330.4 C889.1,332.4 887.6,333.2 886.0,333.2 C884.4,333.2 882.9,332.4 883.0,330.4 C883.2,327.7 884.4,323.2 886.0,323.2 Z" fill="#2ca836"/>
<rect x="885.6" y="333.7" width="0.8" height="6.8" fill="#8b8b7a"/>
<path d="M886.0,328.7 C887.6,328.7 888.8,333.2 889.0,335.9 C889.1,337.9 887.6,338.7 886.0,338.7 C884.4,338.7 882.9,337.9 883.0,335.9 C883.2,333.2 884.4,328.7 886.0,328.7 Z" fill="#078c3b"/>
<rect x="885.6" y="345.0" width="0.8" height="6.8" fill="#8b8b7a"/>
<path d="M886.0,340.0 C887.6,340.0 888.8,344.5 889.0,347.2 C889.1,349.2 887.6,350.0 886.0,350.0 C884.4,350.0 882.9,349.2 883.0,347.2 C883.2,344.5 884.4,340.0 886.0,340.0 Z" fill="#0b6a2d"/>
<rect x="783.9" y="204.3" width="0.8" height="6.8" fill="#8b8b7a"/>
<path d="M784.3,199.3 C785.9,199.3 787.1,203.8 787.3,206.6 C787.4,208.6 785.9,209.3 784.3,209.3 C782.6,209.3 781.2,208.6 781.3,206.6 C781.5,203.8 782.6,199.3 784.3,199.3 Z" fill="#2ca836"/>
<rect x="798.3" y="204.3" width="0.8" height="6.8" fill="#8b8b7a"/>
<path d="M798.7,199.3 C800.4,199.3 801.5,203.8 801.7,206.6 C801.8,208.6 800.4,209.3 798.7,209.3 C797.1,209.3 795.6,208.6 795.7,206.6 C795.9,203.8 797.1,199.3 798.7,199.3 Z" fill="#078c3b"/>
<rect x="791.5" y="212.4" width="0.9" height="7.3" fill="#8b8b7a"/>
<circle cx="791.9" cy="212.4" r="4.75" fill="#078c3b"/>
<rect x="847.9" y="204.3" width="0.8" height="6.8" fill="#8b8b7a"/>
<path d="M848.3,199.3 C849.9,199.3 851.1,203.8 851.3,206.6 C851.4,208.6 849.9,209.3 848.3,209.3 C846.6,209.3 845.2,208.6 845.3,206.6 C845.5,203.8 846.6,199.3 848.3,199.3 Z" fill="#0b6a2d"/>
<rect x="857.3" y="213.0" width="0.8" height="6.8" fill="#8b8b7a"/>
<path d="M857.7,208.0 C859.4,208.0 860.5,212.5 860.7,215.2 C860.8,217.2 859.4,218.0 857.7,218.0 C856.1,218.0 854.6,217.2 854.7,215.2 C854.9,212.5 856.1,208.0 857.7,208.0 Z" fill="#2ca836"/>
<rect x="1080.3" y="206.0" width="0.8" height="6.8" fill="#8b8b7a"/>
<path d="M1080.7,201.0 C1082.4,201.0 1083.5,205.5 1083.7,208.2 C1083.8,210.2 1082.4,211.0 1080.7,211.0 C1079.0,211.0 1077.6,210.2 1077.7,208.2 C1077.9,205.5 1079.0,201.0 1080.7,201.0 Z" fill="#2ca836"/>
<rect x="1081.6" y="218.3" width="0.8" height="6.8" fill="#8b8b7a"/>
<path d="M1082.0,213.3 C1083.7,213.3 1084.8,217.8 1085.0,220.6 C1085.1,222.6 1083.7,223.3 1082.0,223.3 C1080.3,223.3 1078.9,222.6 1079.0,220.6 C1079.2,217.8 1080.3,213.3 1082.0,213.3 Z" fill="#078c3b"/>
<rect x="1083.6" y="231.0" width="0.8" height="6.8" fill="#8b8b7a"/>
<path d="M1084.0,226.0 C1085.7,226.0 1086.8,230.5 1087.0,233.2 C1087.1,235.2 1085.7,236.0 1084.0,236.0 C1082.3,236.0 1080.9,235.2 1081.0,233.2 C1081.2,230.5 1082.3,226.0 1084.0,226.0 Z" fill="#0b6a2d"/>
<rect x="1085.4" y="244.1" width="0.8" height="6.8" fill="#8b8b7a"/>
<path d="M1085.8,239.1 C1087.5,239.1 1088.6,243.6 1088.8,246.3 C1088.9,248.3 1087.5,249.1 1085.8,249.1 C1084.1,249.1 1082.7,248.3 1082.8,246.3 C1083.0,243.6 1084.1,239.1 1085.8,239.1 Z" fill="#078c3b"/>
<rect x="1087.0" y="255.7" width="0.8" height="6.8" fill="#8b8b7a"/>
<path d="M1087.4,250.7 C1089.1,250.7 1090.2,255.2 1090.4,257.9 C1090.5,259.9 1089.1,260.7 1087.4,260.7 C1085.8,260.7 1084.3,259.9 1084.4,257.9 C1084.6,255.2 1085.8,250.7 1087.4,250.7 Z" fill="#078c3b"/>
<rect x="1086.3" y="249.7" width="0.8" height="6.8" fill="#8b8b7a"/>
<path d="M1086.7,244.7 C1088.4,244.7 1089.5,249.2 1089.7,251.9 C1089.8,253.9 1088.4,254.7 1086.7,254.7 C1085.0,254.7 1083.6,253.9 1083.7,251.9 C1083.9,249.2 1085.0,244.7 1086.7,244.7 Z" fill="#2ca836"/>
<rect x="1089.3" y="274.2" width="0.8" height="6.8" fill="#8b8b7a"/>
<path d="M1089.7,269.2 C1091.4,269.2 1092.5,273.7 1092.7,276.4 C1092.8,278.4 1091.4,279.2 1089.7,279.2 C1088.0,279.2 1086.6,278.4 1086.7,276.4 C1086.9,273.7 1088.0,269.2 1089.7,269.2 Z" fill="#0b6a2d"/>
<rect x="1090.5" y="280.0" width="0.8" height="6.8" fill="#8b8b7a"/>
<path d="M1090.9,275.0 C1092.6,275.0 1093.7,279.5 1093.9,282.2 C1094.0,284.2 1092.6,285.0 1090.9,285.0 C1089.2,285.0 1087.8,284.2 1087.9,282.2 C1088.1,279.5 1089.2,275.0 1090.9,275.0 Z" fill="#078c3b"/>
<rect x="1095.6" y="318.0" width="0.8" height="6.8" fill="#8b8b7a"/>
<path d="M1096.0,313.0 C1097.7,313.0 1098.8,317.5 1099.0,320.2 C1099.1,322.2 1097.7,323.0 1096.0,323.0 C1094.3,323.0 1092.9,322.2 1093.0,320.2 C1093.2,317.5 1094.3,313.0 1096.0,313.0 Z" fill="#0b6a2d"/>
<rect x="1097.9" y="331.5" width="0.8" height="6.8" fill="#8b8b7a"/>
<path d="M1098.3,326.5 C1100.0,326.5 1101.1,331.0 1101.3,333.8 C1101.4,335.8 1100.0,336.5 1098.3,336.5 C1096.6,336.5 1095.2,335.8 1095.3,333.8 C1095.5,331.0 1096.6,326.5 1098.3,326.5 Z" fill="#2ca836"/>
<rect x="1099.8" y="345.5" width="0.8" height="6.8" fill="#8b8b7a"/>
<path d="M1100.2,340.5 C1101.9,340.5 1103.0,345.0 1103.2,347.8 C1103.3,349.8 1101.9,350.5 1100.2,350.5 C1098.5,350.5 1097.1,349.8 1097.2,347.8 C1097.4,345.0 1098.5,340.5 1100.2,340.5 Z" fill="#0b6a2d"/>
<rect x="1101.0" y="349.5" width="0.8" height="6.8" fill="#8b8b7a"/>
<path d="M1101.4,344.5 C1103.1,344.5 1104.2,349.0 1104.4,351.8 C1104.5,353.8 1103.1,354.5 1101.4,354.5 C1099.8,354.5 1098.3,353.8 1098.4,351.8 C1098.6,349.0 1099.8,344.5 1101.4,344.5 Z" fill="#078c3b"/>
<rect x="1103.8" y="364.0" width="0.8" height="6.8" fill="#8b8b7a"/>
<path d="M1104.2,359.0 C1105.9,359.0 1107.0,363.5 1107.2,366.2 C1107.3,368.2 1105.9,369.0 1104.2,369.0 C1102.5,369.0 1101.1,368.2 1101.2,366.2 C1101.4,363.5 1102.5,359.0 1104.2,359.0 Z" fill="#2ca836"/>
<rect x="1106.2" y="379.8" width="0.8" height="6.8" fill="#8b8b7a"/>
<path d="M1106.6,374.8 C1108.2,374.8 1109.4,379.3 1109.6,382.1 C1109.7,384.1 1108.2,384.8 1106.6,384.8 C1104.9,384.8 1103.5,384.1 1103.6,382.1 C1103.8,379.3 1104.9,374.8 1106.6,374.8 Z" fill="#078c3b"/>
<rect x="920.3" y="413.3" width="0.9" height="8.1" fill="#8b8b7a"/>
<circle cx="920.7" cy="413.3" r="5.45" fill="#078c3b"/>
<rect x="936.3" y="411.0" width="0.8" height="6.8" fill="#8b8b7a"/>
<path d="M936.7,406.0 C938.4,406.0 939.5,410.5 939.7,413.2 C939.8,415.2 938.4,416.0 936.7,416.0 C935.1,416.0 933.6,415.2 933.7,413.2 C933.9,410.5 935.1,406.0 936.7,406.0 Z" fill="#2ca836"/>
<rect x="943.3" y="408.7" width="0.8" height="6.8" fill="#8b8b7a"/>
<path d="M943.7,403.7 C945.4,403.7 946.5,408.2 946.7,410.9 C946.8,412.9 945.4,413.7 943.7,413.7 C942.1,413.7 940.6,412.9 940.7,410.9 C940.9,408.2 942.1,403.7 943.7,403.7 Z" fill="#0b6a2d"/>
<rect x="978.9" y="412.7" width="0.9" height="8.1" fill="#8b8b7a"/>
<circle cx="979.3" cy="412.7" r="5.45" fill="#2ca836"/>
<rect x="969.6" y="413.3" width="0.9" height="8.1" fill="#8b8b7a"/>
<circle cx="970.0" cy="413.3" r="5.45" fill="#0b6a2d"/>
<rect x="995.9" y="410.7" width="0.8" height="6.8" fill="#8b8b7a"/>
<path d="M996.3,405.7 C997.9,405.7 999.1,410.2 999.3,412.9 C999.4,414.9 997.9,415.7 996.3,415.7 C994.6,415.7 993.2,414.9 993.3,412.9 C993.5,410.2 994.6,405.7 996.3,405.7 Z" fill="#2ca836"/>
<rect x="1003.6" y="414.7" width="0.8" height="6.8" fill="#8b8b7a"/>
<path d="M1004.0,409.7 C1005.6,409.7 1006.8,414.2 1007.0,416.9 C1007.1,418.9 1005.6,419.7 1004.0,419.7 C1002.4,419.7 1000.9,418.9 1001.0,416.9 C1001.2,414.2 1002.4,409.7 1004.0,409.7 Z" fill="#0b6a2d"/>
<rect x="1007.6" y="411.0" width="0.8" height="6.8" fill="#8b8b7a"/>
<path d="M1008.0,406.0 C1009.6,406.0 1010.8,410.5 1011.0,413.2 C1011.1,415.2 1009.6,416.0 1008.0,416.0 C1006.4,416.0 1004.9,415.2 1005.0,413.2 C1005.2,410.5 1006.4,406.0 1008.0,406.0 Z" fill="#078c3b"/>
<rect x="1055.3" y="407.7" width="0.8" height="6.8" fill="#8b8b7a"/>
<path d="M1055.7,402.7 C1057.4,402.7 1058.5,407.2 1058.7,409.9 C1058.8,411.9 1057.4,412.7 1055.7,412.7 C1054.0,412.7 1052.6,411.9 1052.7,409.9 C1052.9,407.2 1054.0,402.7 1055.7,402.7 Z" fill="#078c3b"/>
<rect x="1062.3" y="407.0" width="0.8" height="6.8" fill="#8b8b7a"/>
<path d="M1062.7,402.0 C1064.4,402.0 1065.5,406.5 1065.7,409.2 C1065.8,411.2 1064.4,412.0 1062.7,412.0 C1061.0,412.0 1059.6,411.2 1059.7,409.2 C1059.9,406.5 1061.0,402.0 1062.7,402.0 Z" fill="#2ca836"/>
<rect x="1066.9" y="405.3" width="0.8" height="6.8" fill="#8b8b7a"/>
<path d="M1067.3,400.3 C1069.0,400.3 1070.1,404.8 1070.3,407.6 C1070.4,409.6 1069.0,410.3 1067.3,410.3 C1065.6,410.3 1064.2,409.6 1064.3,407.6 C1064.5,404.8 1065.6,400.3 1067.3,400.3 Z" fill="#0b6a2d"/>
<rect x="1092.9" y="403.2" width="0.9" height="8.2" fill="#8b8b7a"/>
<circle cx="1093.3" cy="403.2" r="5.65" fill="#0b6a2d"/>
<rect x="1104.9" y="405.2" width="0.8" height="6.8" fill="#8b8b7a"/>
<path d="M1105.3,400.2 C1107.0,400.2 1108.1,404.7 1108.3,407.4 C1108.4,409.4 1107.0,410.2 1105.3,410.2 C1103.6,410.2 1102.2,409.4 1102.3,407.4 C1102.5,404.7 1103.6,400.2 1105.3,400.2 Z" fill="#2ca836"/>
<rect x="1110.3" y="401.7" width="0.8" height="6.8" fill="#8b8b7a"/>
<path d="M1110.7,396.7 C1112.4,396.7 1113.5,401.2 1113.7,403.9 C1113.8,405.9 1112.4,406.7 1110.7,406.7 C1109.0,406.7 1107.6,405.9 1107.7,403.9 C1107.9,401.2 1109.0,396.7 1110.7,396.7 Z" fill="#0b6a2d"/>
<rect x="1096.9" y="167.3" width="0.8" height="6.8" fill="#8b8b7a"/>
<path d="M1097.3,162.3 C1099.0,162.3 1100.1,166.8 1100.3,169.6 C1100.4,171.6 1099.0,172.3 1097.3,172.3 C1095.6,172.3 1094.2,171.6 1094.3,169.6 C1094.5,166.8 1095.6,162.3 1097.3,162.3 Z" fill="#2ca836"/>
<rect x="1092.9" y="174.3" width="0.8" height="6.8" fill="#8b8b7a"/>
<path d="M1093.3,169.3 C1095.0,169.3 1096.1,173.8 1096.3,176.6 C1096.4,178.6 1095.0,179.3 1093.3,179.3 C1091.6,179.3 1090.2,178.6 1090.3,176.6 C1090.5,173.8 1091.6,169.3 1093.3,169.3 Z" fill="#078c3b"/>
<rect x="1108.9" y="181.7" width="0.9" height="8.1" fill="#8b8b7a"/>
<circle cx="1109.3" cy="181.7" r="5.45" fill="#078c3b"/>
<rect x="1113.9" y="191.0" width="0.8" height="6.8" fill="#8b8b7a"/>
<path d="M1114.3,186.0 C1116.0,186.0 1117.1,190.5 1117.3,193.2 C1117.4,195.2 1116.0,196.0 1114.3,196.0 C1112.6,196.0 1111.2,195.2 1111.3,193.2 C1111.5,190.5 1112.6,186.0 1114.3,186.0 Z" fill="#0b6a2d"/>
<rect x="1126.3" y="206.0" width="0.8" height="6.8" fill="#8b8b7a"/>
<path d="M1126.7,201.0 C1128.4,201.0 1129.5,205.5 1129.7,208.2 C1129.8,210.2 1128.4,211.0 1126.7,211.0 C1125.0,211.0 1123.6,210.2 1123.7,208.2 C1123.9,205.5 1125.0,201.0 1126.7,201.0 Z" fill="#2ca836"/>
<rect x="1131.9" y="211.7" width="0.8" height="6.8" fill="#8b8b7a"/>
<path d="M1132.3,206.7 C1134.0,206.7 1135.1,211.2 1135.3,213.9 C1135.4,215.9 1134.0,216.7 1132.3,216.7 C1130.6,216.7 1129.2,215.9 1129.3,213.9 C1129.5,211.2 1130.6,206.7 1132.3,206.7 Z" fill="#078c3b"/>
<rect x="1122.9" y="216.0" width="0.8" height="6.8" fill="#8b8b7a"/>
<path d="M1123.3,211.0 C1125.0,211.0 1126.1,215.5 1126.3,218.2 C1126.4,220.2 1125.0,221.0 1123.3,221.0 C1121.6,221.0 1120.2,220.2 1120.3,218.2 C1120.5,215.5 1121.6,211.0 1123.3,211.0 Z" fill="#078c3b"/>
<rect x="1138.6" y="135.0" width="0.8" height="6.8" fill="#8b8b7a"/>
<path d="M1139.0,130.0 C1140.7,130.0 1141.8,134.5 1142.0,137.2 C1142.1,139.2 1140.7,140.0 1139.0,140.0 C1137.3,140.0 1135.9,139.2 1136.0,137.2 C1136.2,134.5 1137.3,130.0 1139.0,130.0 Z" fill="#2ca836"/>
<text x="24.7" y="172.6" font-size="11.8" fill="#a3a3a3" stroke="#a3a3a3" stroke-width="0.3" textLength="33.6" lengthAdjust="spacingAndGlyphs">ULM /</text>
<text x="24.7" y="186.8" font-size="11.8" fill="#a3a3a3" stroke="#a3a3a3" stroke-width="0.3" textLength="81.3" lengthAdjust="spacingAndGlyphs">RAVENSBURG</text>
<text x="287.3" y="96" font-size="13.5" fill="#fff" stroke="#fff" stroke-width="0.3" textLength="42.0" lengthAdjust="spacingAndGlyphs">EAST 2</text>
<text x="56.7" y="228.5" font-size="13.5" fill="#fff" stroke="#fff" stroke-width="0.3" textLength="41.0" lengthAdjust="spacingAndGlyphs">EAST 3</text>
<text x="13.3" y="255.7" font-size="13.5" fill="#fff" stroke="#fff" stroke-width="0.3" textLength="41.0" lengthAdjust="spacingAndGlyphs">EAST 1</text>
<text x="1006.7" y="205" font-size="13.5" fill="#a3a3a3" stroke="#a3a3a3" stroke-width="0.3" textLength="45.0" lengthAdjust="spacingAndGlyphs">WEST 1</text>
<text x="1077" y="135" font-size="13.5" fill="#a3a3a3" stroke="#a3a3a3" stroke-width="0.3" textLength="45.7" lengthAdjust="spacingAndGlyphs">WEST 2</text>
<text x="741" y="55" font-size="13.5" fill="#a3a3a3" stroke="#a3a3a3" stroke-width="0.3" textLength="122.3" lengthAdjust="spacingAndGlyphs">ZEPPELIN HANGAR</text>
<text x="791.7" y="386.7" font-size="13.5" fill="#fff" stroke="#fff" stroke-width="0.3" textLength="75.0" lengthAdjust="spacingAndGlyphs">DEMO LAKE</text>
<text x="950.7" y="451" font-size="11.8" fill="#a3a3a3" stroke="#a3a3a3" stroke-width="0.3" textLength="119.3" lengthAdjust="spacingAndGlyphs">FRIEDRICHSHAFEN /</text>
<text x="950.7" y="464.7" font-size="11.8" fill="#a3a3a3" stroke="#a3a3a3" stroke-width="0.3" textLength="146.6" lengthAdjust="spacingAndGlyphs">ALL DIRECTIONS / FERRY</text>
<path d="M1109.3,140.5 L1114.3,160" stroke="#a9a9a9" stroke-width="1.7" fill="none"/>
<path d="M20,182.5 L10,182.5 M13.8,178.5 L9.4,182.5 L13.8,186.5" stroke="#a3a3a3" stroke-width="2.1" fill="none"/>
<path d="M1105.6,460.5 L1116,460.5 M1112.2,456.5 L1116.6,460.5 L1112.2,464.5" stroke="#a3a3a3" stroke-width="2.1" fill="none"/>
<text x="206.4" y="254.7" font-size="21.5" fill="#fff" stroke="#fff" stroke-width="0.5" textLength="26.2" lengthAdjust="spacingAndGlyphs">A7</text>
<text x="308.09999999999997" y="260.3" font-size="21.5" fill="#fff" stroke="#fff" stroke-width="0.5" textLength="26.2" lengthAdjust="spacingAndGlyphs">A6</text>
<text x="404.7" y="254.7" font-size="21.5" fill="#fff" stroke="#fff" stroke-width="0.5" textLength="26.2" lengthAdjust="spacingAndGlyphs">A5</text>
<text x="501.1" y="254.7" font-size="21.5" fill="#fff" stroke="#fff" stroke-width="0.5" textLength="26.2" lengthAdjust="spacingAndGlyphs">A4</text>
<text x="603.6999999999999" y="254.7" font-size="21.5" fill="#fff" stroke="#fff" stroke-width="0.5" textLength="26.2" lengthAdjust="spacingAndGlyphs">A3</text>
<text x="704.6999999999999" y="254.7" font-size="21.5" fill="#fff" stroke="#fff" stroke-width="0.5" textLength="26.2" lengthAdjust="spacingAndGlyphs">A2</text>
<text x="817.6" y="282.7" font-size="21.5" fill="#fff" stroke="#fff" stroke-width="0.5" textLength="26.2" lengthAdjust="spacingAndGlyphs">A1</text>
<text x="208.9" y="376" font-size="21.5" fill="#fff" stroke="#fff" stroke-width="0.5" textLength="26.2" lengthAdjust="spacingAndGlyphs">B5</text>
<text x="308.7" y="380" font-size="21.5" fill="#fff" stroke="#fff" stroke-width="0.5" textLength="26.2" lengthAdjust="spacingAndGlyphs">B4</text>
<text x="404.59999999999997" y="376" font-size="21.5" fill="#fff" stroke="#fff" stroke-width="0.5" textLength="26.2" lengthAdjust="spacingAndGlyphs">B3</text>
<text x="504.6" y="376" font-size="21.5" fill="#fff" stroke="#fff" stroke-width="0.5" textLength="26.2" lengthAdjust="spacingAndGlyphs">B2</text>
<text x="605.1" y="376" font-size="21.5" fill="#fff" stroke="#fff" stroke-width="0.5" textLength="26.2" lengthAdjust="spacingAndGlyphs">B1</text>
<circle cx="251.6" cy="99.3" r="11.3" fill="#1c9ad7"/>
<text x="251.9" y="104.0" font-size="13.2" fill="#fff" text-anchor="middle">P</text>
<circle cx="120.6" cy="214.3" r="11.3" fill="#1c9ad7"/>
<text x="120.89999999999999" y="219.0" font-size="13.2" fill="#fff" text-anchor="middle">P</text>
<circle cx="37.5" cy="289.4" r="11.3" fill="#1c9ad7"/>
<text x="37.8" y="294.09999999999997" font-size="13.2" fill="#fff" text-anchor="middle">P</text>
<circle cx="980" cy="200.3" r="11.3" fill="#1c9ad7"/>
<text x="980.3" y="205.0" font-size="13.2" fill="#fff" text-anchor="middle">P</text>
<circle cx="1125.7" cy="173.3" r="11.3" fill="#1c9ad7"/>
<text x="1126.0" y="178.0" font-size="13.2" fill="#fff" text-anchor="middle">P</text>
</svg>
</body></html>
